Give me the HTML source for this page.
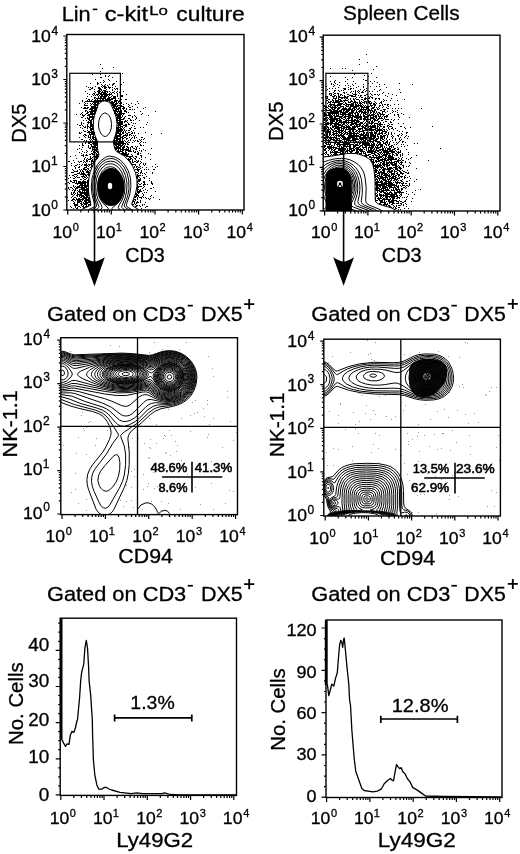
<!DOCTYPE html>
<html><head><meta charset="utf-8"><style>
html,body{margin:0;padding:0;background:#fff;}
svg{display:block;font-family:"Liberation Sans", sans-serif;will-change:transform;}
text{stroke:#000;stroke-width:0.3px;}
</style></head><body>
<svg width="520" height="854" viewBox="0 0 520 854">
<clipPath id="ca"><rect x="66.8" y="34.5" width="177.2" height="175.5"/></clipPath>
<g clip-path="url(#ca)">
<path d="M200 129h2M226 135h2M204 137h2M200 143h2M210 147h2M228 147h2M244 147h2M184 149h2M200 149h2M210 151h2M218 151h2M210 153h2M216 153h2M200 155h4M224 155h2M190 159h2M216 159h2M206 161h2M218 161h2M208 163h2M232 163h2M194 165h2M200 165h2M206 165h2M246 165h2M180 167h2M194 167h4M226 167h4M194 169h2M202 169h2M210 169h2M218 169h2M224 169h4M242 169h2M204 171h2M208 171h2M214 171h2M224 171h2M172 173h2M190 173h2M202 173h2M206 173h6M216 173h2M230 173h2M176 175h2M180 175h2M184 175h2M196 175h4M204 175h2M208 175h6M216 175h6M224 175h2M182 177h4M196 177h6M208 177h4M218 177h2M228 177h2M232 177h4M178 179h4M188 179h2M198 179h6M212 179h2M224 179h2M230 179h2M234 179h2M240 179h2M196 181h4M202 181h2M206 181h6M224 181h2M170 183h2M188 183h2M194 183h8M204 183h2M208 183h8M218 183h2M228 183h2M234 183h2M246 183h2M190 185h2M196 185h4M202 185h10M214 185h2M220 185h2M224 185h4M232 185h2M238 185h4M174 187h2M186 187h4M196 187h8M206 187h8M218 187h2M222 187h2M228 187h2M234 187h2M178 189h2M184 189h2M188 189h2M192 189h6M200 189h24M234 189h2M252 189h2M186 191h2M190 191h2M194 191h2M198 191h2M202 191h4M208 191h8M218 191h2M224 191h2M234 191h2M242 191h4M174 193h2M182 193h2M196 193h2M200 193h14M216 193h2M222 193h2M226 193h6M234 193h2M240 193h6M188 195h4M196 195h2M200 195h4M206 195h6M216 195h6M226 195h6M240 195h2M172 197h2M188 197h2M192 197h20M214 197h6M222 197h10M236 197h2M176 199h4M184 199h2M190 199h2M194 199h2M200 199h2M204 199h4M210 199h16M230 199h2M242 199h2M250 199h4M164 201h2M174 201h2M178 201h2M182 201h2M188 201h34M228 201h8M238 201h2M164 203h2M170 203h34M218 203h2M222 203h4M228 203h6M236 203h4M274 203h2M168 205h2M186 205h12M220 205h10M232 205h2M236 205h2M242 205h2M158 207h2M170 207h2M174 207h2M180 207h2M184 207h2M188 207h4M194 207h4M222 207h6M230 207h6M238 207h2M242 207h2M252 207h2M262 207h2M276 207h2M168 209h2M182 209h2M186 209h10M224 209h10M246 209h2M256 209h2M270 209h2M168 211h8M180 211h2M188 211h8M224 211h8M234 211h10M258 211h2M182 213h10M194 213h2M226 213h10M242 213h6M256 213h2M264 213h2M162 215h2M168 215h4M174 215h4M182 215h14M224 215h6M232 215h2M236 215h6M246 215h4M258 215h4M274 215h2M290 215h2M166 217h10M180 217h14M228 217h14M244 217h6M252 217h2M286 217h2M178 219h8M188 219h4M226 219h2M230 219h8M240 219h2M246 219h2M252 219h2M258 219h4M264 219h2M268 219h2M170 221h4M182 221h12M226 221h8M236 221h2M240 221h4M248 221h4M170 223h2M174 223h2M178 223h14M228 223h16M248 223h6M280 223h2M310 223h2M164 225h2M174 225h4M180 225h6M188 225h4M230 225h2M234 225h2M238 225h6M252 225h2M256 225h2M268 225h2M162 227h2M172 227h4M180 227h10M228 227h6M236 227h14M284 227h2M152 229h2M160 229h2M164 229h2M170 229h2M176 229h14M232 229h12M246 229h2M282 229h2M164 231h6M174 231h6M184 231h2M230 231h12M244 231h2M256 231h6M268 231h2M296 231h2M166 233h2M178 233h10M234 233h8M244 233h2M250 233h2M264 233h2M270 233h2M162 235h4M174 235h2M178 235h10M232 235h12M248 235h2M264 235h2M272 235h2M170 237h2M174 237h6M184 237h4M232 237h8M246 237h4M256 237h4M272 237h2M176 239h4M182 239h4M232 239h4M238 239h10M260 239h2M270 239h2M166 241h2M172 241h2M178 241h6M186 241h2M234 241h8M250 241h2M254 241h2M260 241h4M266 241h2M278 241h2M176 243h2M180 243h4M234 243h2M238 243h8M248 243h6M162 245h2M174 245h10M186 245h2M234 245h12M248 245h2M254 245h2M262 245h2M294 245h2M134 247h2M162 247h2M166 247h2M176 247h2M180 247h4M186 247h2M234 247h12M256 247h2M266 247h2M270 247h2M154 249h2M162 249h2M174 249h2M180 249h6M236 249h10M250 249h4M256 249h4M292 249h2M158 251h4M164 251h2M174 251h2M180 251h8M234 251h8M246 251h8M264 251h2M166 253h2M170 253h2M174 253h4M180 253h6M236 253h2M240 253h6M250 253h4M268 253h2M160 255h2M168 255h4M174 255h2M178 255h4M184 255h2M232 255h10M244 255h2M248 255h2M262 255h2M280 255h2M286 255h2M164 257h2M174 257h2M180 257h6M232 257h6M240 257h4M246 257h2M258 257h4M268 257h4M180 259h8M232 259h14M248 259h2M260 259h2M166 261h2M174 261h2M180 261h4M234 261h12M248 261h2M252 261h2M256 261h4M266 261h2M168 263h4M176 263h4M182 263h6M232 263h12M246 263h2M250 263h2M262 263h2M158 265h2M162 265h2M174 265h16M232 265h6M240 265h2M244 265h4M250 265h2M256 265h4M264 265h2M268 265h2M290 265h2M158 267h4M178 267h2M182 267h8M232 267h10M244 267h4M252 267h4M262 267h4M268 267h2M276 267h2M322 267h2M168 269h4M178 269h12M230 269h4M238 269h2M242 269h2M250 269h2M254 269h2M258 269h4M302 269h2M166 271h2M170 271h4M176 271h2M180 271h2M186 271h2M230 271h12M246 271h10M258 271h2M262 271h2M266 271h2M270 271h2M168 273h2M176 273h2M180 273h2M184 273h4M230 273h10M244 273h4M252 273h2M268 273h2M158 275h2M170 275h2M176 275h6M184 275h8M228 275h8M240 275h6M248 275h4M258 275h2M264 275h2M268 275h2M272 275h2M282 275h4M180 277h2M184 277h4M190 277h2M228 277h14M244 277h4M252 277h4M262 277h2M268 277h2M288 277h2M162 279h4M178 279h2M182 279h2M186 279h8M228 279h2M232 279h8M244 279h2M252 279h2M260 279h2M278 279h2M282 279h2M286 279h2M168 281h2M172 281h2M180 281h2M184 281h2M190 281h4M226 281h10M238 281h4M244 281h2M248 281h2M256 281h2M260 281h2M266 281h2M270 281h2M274 281h2M280 281h2M166 283h2M172 283h2M176 283h2M180 283h2M184 283h12M228 283h2M232 283h16M250 283h2M254 283h2M268 283h2M274 283h4M282 283h2M170 285h2M176 285h8M186 285h2M190 285h6M226 285h8M236 285h12M252 285h2M256 285h4M264 285h2M280 285h2M286 285h2M290 285h2M164 287h2M170 287h2M176 287h4M184 287h12M226 287h26M254 287h2M278 287h2M164 289h2M180 289h4M186 289h10M228 289h14M244 289h4M250 289h2M254 289h4M280 289h2M158 291h2M164 291h4M176 291h2M182 291h2M188 291h6M230 291h4M236 291h10M248 291h2M280 291h4M286 291h2M176 293h2M182 293h10M194 293h2M228 293h2M232 293h6M240 293h4M246 293h4M252 293h4M262 293h4M270 293h2M274 293h2M164 295h2M176 295h2M180 295h2M184 295h10M228 295h14M244 295h6M254 295h4M260 295h2M264 295h2M272 295h2M158 297h2M178 297h4M184 297h2M188 297h2M192 297h2M230 297h12M244 297h4M252 297h2M256 297h2M260 297h2M266 297h4M272 297h2M278 297h2M302 297h2M154 299h2M162 299h2M184 299h12M230 299h4M236 299h2M240 299h18M260 299h2M270 299h4M286 299h2M172 301h2M184 301h2M190 301h4M234 301h4M240 301h2M244 301h4M250 301h12M266 301h2M278 301h2M282 301h2M290 301h2M164 303h2M174 303h2M182 303h2M186 303h4M192 303h4M234 303h12M250 303h2M256 303h8M266 303h2M270 303h2M274 303h2M282 303h2M158 305h2M168 305h2M172 305h2M186 305h2M190 305h2M194 305h2M238 305h2M244 305h4M250 305h4M268 305h4M276 305h2M162 307h2M182 307h4M192 307h2M196 307h2M242 307h12M256 307h2M274 307h4M280 307h2M296 307h2M166 309h2M172 309h2M178 309h4M184 309h4M192 309h6M244 309h14M262 309h2M274 309h4M300 309h2M150 311h2M162 311h6M170 311h6M188 311h2M192 311h4M248 311h8M264 311h2M280 311h4M140 313h2M166 313h2M180 313h2M186 313h2M190 313h8M252 313h14M270 313h4M282 313h2M170 315h2M180 315h2M184 315h2M188 315h8M258 315h4M266 315h2M272 315h2M282 315h2M290 315h2M152 317h2M168 317h2M174 317h2M180 317h4M188 317h2M192 317h4M256 317h2M260 317h4M268 317h4M278 317h2M168 319h2M172 319h2M176 319h6M184 319h2M188 319h4M254 319h8M264 319h2M270 319h2M282 319h2M300 319h2M146 321h2M166 321h2M172 321h4M182 321h4M256 321h4M264 321h2M272 321h2M276 321h2M136 323h4M156 323h2M160 323h4M168 323h2M172 323h4M178 323h2M182 323h6M260 323h2M264 323h2M268 323h4M274 323h4M280 323h2M148 325h2M158 325h2M166 325h2M170 325h2M182 325h2M186 325h2M260 325h2M264 325h4M272 325h4M282 325h2M142 327h2M172 327h2M182 327h4M262 327h2M280 327h2M286 327h2M290 327h2M154 329h2M158 329h2M164 329h2M168 329h6M176 329h8M264 329h8M278 329h2M286 329h2M290 329h2M310 329h2M142 331h2M150 331h4M162 331h2M168 331h8M178 331h2M182 331h4M270 331h2M278 331h2M288 331h2M148 333h2M158 333h2M172 333h2M176 333h2M182 333h4M268 333h2M272 333h4M280 333h2M304 333h2M314 333h2M150 335h2M156 335h4M168 335h6M180 335h2M268 335h2M272 335h2M276 335h4M284 335h2M292 335h2M310 335h2M150 337h2M166 337h4M174 337h4M182 337h2M274 337h2M280 337h2M144 339h2M158 339h2M162 339h2M166 339h8M176 339h2M270 339h10M288 339h2M292 339h2M296 339h2M306 339h4M146 341h2M154 341h2M160 341h2M164 341h2M170 341h2M174 341h2M178 341h2M274 341h4M282 341h2M148 343h8M160 343h2M164 343h4M172 343h6M276 343h2M282 343h2M142 345h6M158 345h2M162 345h2M166 345h2M172 345h8M272 345h4M280 345h4M292 345h2M304 345h2M154 347h6M162 347h8M176 347h2M276 347h2M280 347h2M284 347h2M288 347h2M304 347h2M148 349h6M160 349h12M174 349h6M274 349h2M290 349h2M138 351h2M144 351h4M154 351h2M166 351h2M170 351h4M176 351h2M274 351h8M284 351h2M148 353h2M152 353h2M162 353h8M172 353h2M272 353h6M292 353h2M140 355h2M150 355h2M154 355h6M164 355h2M168 355h4M174 355h2M274 355h2M278 355h2M286 355h4M136 357h2M146 357h4M166 357h2M172 357h2M274 357h2M280 357h2M288 357h2M298 357h2M160 359h4M168 359h4M176 359h2M276 359h6M140 361h2M146 361h8M166 361h2M174 361h4M276 361h6M298 361h2M140 363h4M148 363h2M152 363h2M156 363h6M164 363h8M174 363h4M274 363h6M286 363h4M302 363h2M136 365h2M144 365h6M152 365h2M156 365h22M274 365h2M286 365h4M302 365h2M138 367h2M150 367h22M174 367h4M276 367h2M282 367h2M288 367h2M302 367h4M154 369h2M160 369h6M168 369h4M174 369h4M274 369h2M278 369h4M286 369h6M294 369h2M304 369h2M146 371h2M158 371h18M274 371h2M286 371h2M146 373h2M150 373h2M154 373h6M162 373h4M168 373h10M274 373h10M288 373h2M136 375h2M140 375h4M148 375h2M152 375h22M274 375h4M286 375h2M306 375h2M136 377h2M144 377h2M150 377h6M162 377h8M172 377h4M274 377h2M284 377h2M300 377h4M138 379h2M146 379h2M150 379h2M158 379h20M274 379h4M280 379h2M290 379h2M144 381h2M148 381h4M154 381h2M158 381h2M164 381h12M274 381h2M278 381h4M286 381h2M294 381h2M148 383h2M156 383h6M164 383h2M168 383h2M172 383h6M274 383h10M310 383h2M142 385h2M146 385h4M154 385h2M158 385h20M274 385h6M288 385h2M292 385h2M142 387h2M146 387h2M150 387h2M154 387h2M160 387h18M270 387h4M276 387h2M284 387h2M142 389h4M148 389h2M154 389h10M168 389h10M270 389h6M286 389h2M146 391h2M152 391h4M158 391h10M170 391h8M272 391h6M286 391h2M302 391h2M144 393h2M154 393h2M158 393h2M162 393h8M172 393h4M270 393h4M276 393h2M284 393h2M300 393h2M134 395h2M142 395h2M148 395h4M160 395h4M166 395h14M268 395h4M274 395h2M278 395h6M286 395h2M290 395h2M306 395h2M146 397h2M152 397h2M156 397h4M164 397h10M176 397h4M274 397h2M282 397h2M292 397h2M296 397h2M300 397h2M144 399h6M152 399h16M170 399h10M268 399h4M274 399h2M298 399h2M318 399h2M136 401h2M142 401h4M150 401h2M154 401h8M164 401h2M168 401h12M266 401h2M270 401h2M280 401h2M146 403h2M154 403h10M168 403h6M176 403h6M266 403h4M274 403h2M280 403h2M148 405h2M154 405h6M162 405h2M166 405h2M170 405h12M264 405h2M268 405h2M272 405h6M280 405h2M290 405h2M146 407h4M154 407h2M160 407h4M166 407h10M180 407h2M268 407h2M272 407h2M148 409h8M162 409h4M168 409h6M176 409h6M264 409h4M270 409h2M284 409h2M288 409h2M148 411h8M162 411h2M166 411h2M172 411h2M176 411h2M180 411h2M264 411h2M272 411h4M278 411h2M284 411h2M140 413h2M150 413h2M156 413h4M164 413h4M170 413h6M270 413h4M280 413h2M292 413h4M142 415h2M150 415h2M154 415h2M160 415h2M166 415h4M290 415h2M146 417h2M152 417h4M166 417h2M282 417h2" stroke="#000" stroke-width="2.0" transform="scale(0.5)"/>
<ellipse cx="111" cy="187" rx="13.5" ry="19" fill="#000"/>
<ellipse cx="110" cy="186" rx="2.2" ry="3.2" fill="#fff"/>
<path d="M78.9 215.5 78.7 213.0 80.0 211.0 83.3 208.7 89.3 205.9 90.4 205.0 90.8 204.2 89.0 195.0 88.4 190.0 88.4 183.5 89.0 177.5 90.1 172.5 92.0 167.0 94.6 162.0 98.3 157.0 98.9 155.0 97.6 149.0 97.4 141.5 94.6 134.5 93.6 130.0 93.2 125.0 93.6 120.0 94.5 115.5 98.3 104.5 100.8 102.0 102.8 101.2 104.8 100.9 108.3 101.8 110.9 104.0 115.0 113.5 116.2 117.5 117.0 123.5 116.7 129.5 115.6 134.5 113.3 141.5 113.7 144.5 115.3 149.9 116.8 151.7 123.8 155.7 128.3 160.0 132.6 166.0 135.6 173.0 137.0 180.0 136.9 187.0 135.5 193.5 132.2 202.5 131.9 204.5 132.9 206.0 138.3 209.4 140.2 211.0 141.5 213.5 141.2 215.5 M106.3 136.2 105.3 136.5 103.8 136.2 101.3 134.2 99.4 130.5 98.5 126.0 98.8 121.1 100.1 117.0 102.3 114.1 104.8 112.9 107.3 113.8 109.3 115.8 110.8 119.2 111.5 123.5 111.3 127.9 110.3 131.5 108.5 134.5 106.3 136.2 M85.2 215.5 84.8 213.5 86.0 211.5 88.3 209.8 93.3 207.3 94.3 206.5 94.7 205.5 94.6 204.0 92.1 195.0 91.3 187.0 92.1 178.0 94.5 170.0 97.5 164.5 100.8 160.7 105.8 157.1 107.8 156.3 109.8 156.1 115.3 157.2 120.3 160.0 124.6 164.5 128.1 170.5 129.5 174.5 130.5 178.5 130.9 186.5 129.7 195.0 126.7 203.5 126.4 205.5 127.3 207.0 132.8 210.3 134.6 212.0 135.3 214.0 134.9 215.5 M88.0 215.5 87.6 213.5 88.4 212.0 90.3 210.5 95.3 207.8 96.5 206.0 96.4 204.5 93.6 196.0 92.6 188.5 93.0 180.0 95.2 172.0 98.0 166.5 101.8 162.1 106.3 159.3 110.8 158.5 113.3 158.8 115.8 159.6 120.1 162.5 124.0 167.0 127.0 173.0 128.7 180.0 129.0 188.5 127.7 196.0 124.5 204.5 124.3 206.0 125.3 207.6 130.0 210.5 131.7 212.0 132.5 214.0 132.0 215.5 M91.9 215.5 91.3 214.0 91.9 212.5 93.6 211.0 97.8 208.5 98.7 207.5 98.9 206.5 95.5 197.5 94.2 190.0 94.4 181.5 96.0 174.5 98.6 169.0 101.8 164.9 105.8 162.1 110.3 161.1 114.8 161.9 117.3 163.3 119.3 164.9 122.9 169.5 125.5 175.5 127.0 183.0 126.7 191.0 125.1 198.0 121.7 206.5 121.9 207.5 122.8 208.5 126.7 211.0 128.3 212.5 128.8 214.0 128.2 215.5 M96.7 215.5 96.0 214.5 96.2 213.0 97.7 211.5 101.3 209.0 102.1 207.5 101.7 206.0 97.9 199.0 96.2 193.0 95.7 185.5 96.6 178.5 98.6 173.0 101.9 168.0 105.8 164.9 107.8 164.1 110.3 163.8 112.8 164.1 114.8 164.8 118.5 167.5 121.7 172.0 124.1 178.0 125.1 185.5 124.5 193.0 122.6 199.0 118.7 206.0 118.3 207.5 119.1 209.0 122.6 211.5 124.0 213.0 124.1 214.5 123.4 215.5 M104.3 215.5 102.7 214.5 102.6 213.0 104.3 211.5 107.6 209.5 108.5 208.5 102.8 203.2 99.6 198.0 98.4 194.5 97.7 190.5 97.7 183.0 99.1 177.0 102.0 171.5 103.8 169.5 105.8 168.0 107.8 167.1 110.3 166.7 112.8 167.1 114.8 168.0 116.8 169.5 118.6 171.5 121.5 177.0 122.9 183.0 122.8 190.5 121.0 197.5 117.8 202.9 111.8 208.5 112.6 209.5 116.0 211.5 117.6 213.0 117.4 214.5 115.8 215.5" fill="none" stroke="#000" stroke-width="1.0" stroke-linejoin="round"/>
</g>
<clipPath id="cb"><rect x="323.2" y="35.2" width="176.8" height="175.8"/></clipPath>
<g clip-path="url(#cb)">
<path d="M732 109h2M718 119h2M734 125h2M718 129h2M752 133h2M660 137h2M684 137h2M690 137h2M746 139h2M704 141h2M742 147h2M708 149h2M728 151h2M660 153h2M736 153h2M690 155h2M704 155h2M752 155h2M694 159h2M726 159h2M670 161h2M730 161h4M660 163h2M668 163h2M690 163h2M706 163h2M740 163h2M748 163h2M668 165h2M678 165h2M754 165h2M662 167h2M670 167h2M694 167h2M710 167h2M736 167h2M744 167h2M798 167h2M662 169h2M666 169h2M674 169h2M704 169h2M726 169h2M758 169h2M768 169h2M824 169h2M668 171h2M678 171h2M690 171h2M696 171h2M706 171h2M652 173h2M666 173h2M700 173h2M716 173h2M726 173h2M740 173h2M752 173h2M758 173h2M676 175h2M696 175h2M712 175h2M726 175h2M772 175h2M658 177h2M664 177h2M670 177h2M686 177h6M700 177h4M706 177h2M732 177h2M654 179h2M688 179h4M696 179h2M700 179h2M720 179h2M728 179h2M748 179h2M760 179h2M798 179h2M652 181h2M668 181h4M676 181h2M682 181h2M686 181h2M710 181h2M716 181h2M726 181h2M732 181h2M758 181h2M658 183h2M668 183h2M678 183h2M702 183h2M706 183h2M710 183h2M714 183h2M718 183h2M724 183h2M730 183h2M738 183h2M744 183h2M754 183h2M666 185h2M686 185h4M692 185h2M700 185h2M710 185h2M716 185h2M722 185h6M766 185h2M800 185h2M658 187h6M668 187h4M674 187h4M688 187h2M704 187h2M710 187h2M718 187h2M740 187h2M764 187h2M776 187h2M658 189h2M662 189h2M666 189h2M676 189h2M680 189h4M694 189h4M706 189h8M732 189h4M742 189h2M748 189h4M754 189h2M758 189h2M784 189h2M660 191h4M668 191h4M676 191h2M680 191h2M684 191h2M688 191h2M698 191h8M710 191h2M716 191h2M720 191h4M728 191h4M744 191h2M756 191h2M770 191h2M792 191h2M650 193h6M664 193h6M672 193h2M676 193h4M688 193h4M694 193h4M702 193h10M720 193h2M736 193h2M740 193h2M774 193h2M650 195h2M654 195h2M666 195h2M672 195h2M676 195h20M712 195h2M718 195h2M722 195h4M730 195h2M738 195h2M742 195h4M652 197h4M666 197h8M676 197h2M682 197h4M688 197h2M692 197h4M700 197h2M706 197h2M710 197h2M728 197h6M736 197h4M744 197h2M750 197h4M756 197h4M782 197h2M656 199h4M664 199h2M670 199h2M676 199h6M690 199h2M696 199h2M700 199h2M706 199h4M712 199h6M722 199h4M728 199h4M734 199h2M750 199h2M758 199h2M766 199h2M808 199h2M652 201h4M664 201h4M670 201h8M680 201h4M686 201h10M702 201h2M708 201h2M718 201h2M726 201h2M736 201h2M768 201h2M772 201h2M780 201h2M794 201h2M656 203h2M660 203h4M666 203h2M670 203h16M688 203h2M696 203h2M700 203h6M708 203h4M718 203h2M722 203h2M728 203h6M736 203h6M748 203h2M762 203h2M766 203h2M650 205h2M656 205h6M664 205h16M686 205h2M690 205h2M696 205h6M706 205h10M718 205h4M724 205h6M732 205h2M736 205h4M742 205h2M750 205h2M760 205h4M654 207h2M660 207h2M668 207h2M676 207h10M690 207h4M702 207h6M710 207h2M714 207h2M718 207h6M728 207h2M732 207h2M738 207h6M746 207h4M752 207h2M758 207h2M762 207h2M658 209h12M674 209h10M686 209h4M692 209h16M710 209h4M716 209h2M720 209h2M724 209h2M740 209h2M746 209h6M764 209h2M768 209h4M774 209h4M788 209h2M796 209h2M648 211h2M656 211h2M660 211h4M666 211h16M690 211h4M696 211h2M700 211h8M710 211h14M726 211h2M730 211h2M740 211h6M748 211h4M758 211h4M764 211h2M774 211h2M780 211h2M648 213h6M656 213h6M664 213h2M668 213h4M674 213h2M680 213h8M692 213h6M700 213h18M720 213h6M728 213h2M732 213h8M742 213h2M748 213h2M758 213h2M766 213h2M776 213h2M650 215h6M660 215h14M676 215h6M686 215h2M690 215h2M698 215h4M706 215h8M718 215h2M722 215h16M744 215h6M752 215h2M756 215h2M764 215h2M772 215h2M648 217h2M656 217h2M662 217h4M668 217h4M674 217h6M684 217h10M696 217h6M704 217h6M712 217h2M716 217h4M722 217h2M726 217h2M732 217h6M742 217h6M754 217h2M758 217h2M774 217h4M784 217h2M790 217h2M796 217h2M802 217h2M842 217h2M650 219h4M658 219h4M664 219h6M674 219h4M682 219h24M708 219h4M714 219h4M720 219h14M736 219h4M742 219h2M748 219h4M754 219h4M766 219h6M648 221h2M652 221h12M666 221h10M678 221h6M686 221h4M692 221h8M702 221h8M712 221h2M718 221h6M726 221h2M730 221h2M734 221h12M748 221h4M760 221h4M768 221h2M784 221h2M794 221h2M660 223h24M686 223h2M690 223h8M702 223h6M712 223h2M716 223h10M728 223h4M734 223h4M740 223h2M744 223h6M752 223h2M764 223h6M774 223h2M786 223h2M790 223h2M648 225h2M654 225h24M680 225h16M698 225h10M710 225h6M718 225h2M722 225h12M736 225h2M740 225h4M746 225h4M752 225h2M756 225h4M764 225h2M770 225h2M784 225h2M794 225h2M648 227h4M656 227h22M680 227h2M684 227h8M696 227h10M708 227h4M714 227h4M722 227h2M726 227h6M734 227h2M740 227h2M746 227h2M750 227h2M754 227h2M758 227h4M764 227h2M780 227h2M802 227h2M648 229h6M656 229h6M664 229h2M668 229h2M672 229h2M676 229h2M680 229h22M704 229h2M710 229h2M714 229h4M720 229h2M726 229h2M730 229h4M738 229h2M742 229h8M754 229h4M760 229h10M776 229h2M788 229h2M794 229h4M806 229h2M648 231h16M666 231h4M672 231h6M684 231h4M690 231h2M696 231h12M710 231h8M720 231h2M726 231h4M734 231h14M750 231h4M756 231h2M760 231h2M766 231h2M772 231h4M788 231h2M796 231h2M648 233h2M658 233h8M668 233h18M688 233h14M704 233h20M726 233h12M740 233h2M746 233h8M756 233h6M764 233h2M768 233h8M796 233h2M652 235h4M658 235h8M668 235h4M678 235h6M686 235h6M696 235h10M708 235h16M728 235h8M740 235h8M750 235h4M758 235h2M762 235h2M768 235h2M772 235h2M798 235h2M818 235h2M648 237h6M656 237h2M660 237h20M682 237h4M690 237h2M694 237h6M702 237h4M712 237h6M720 237h4M726 237h6M734 237h2M740 237h10M752 237h2M756 237h10M768 237h2M648 239h4M654 239h2M658 239h18M678 239h4M686 239h4M692 239h2M696 239h2M702 239h4M708 239h4M714 239h2M718 239h6M726 239h16M746 239h6M754 239h4M766 239h2M770 239h8M782 239h2M788 239h2M796 239h2M648 241h2M652 241h4M660 241h10M672 241h12M690 241h28M728 241h2M732 241h2M740 241h2M744 241h2M748 241h8M762 241h4M786 241h2M652 243h2M660 243h10M672 243h4M678 243h6M686 243h8M696 243h2M702 243h8M712 243h8M726 243h2M732 243h4M738 243h2M742 243h4M748 243h2M756 243h4M770 243h4M780 243h2M648 245h2M654 245h4M660 245h6M670 245h4M676 245h30M708 245h10M720 245h6M730 245h2M736 245h4M742 245h6M756 245h2M760 245h2M766 245h2M780 245h4M650 247h28M682 247h2M686 247h4M692 247h2M696 247h2M702 247h12M718 247h8M728 247h2M732 247h2M738 247h8M748 247h8M758 247h4M776 247h2M796 247h2M806 247h2M648 249h10M660 249h4M668 249h14M684 249h6M694 249h2M700 249h8M710 249h12M726 249h2M732 249h4M742 249h2M748 249h2M754 249h12M768 249h2M778 249h2M782 249h4M652 251h2M660 251h2M664 251h2M668 251h6M676 251h10M690 251h4M696 251h2M700 251h4M708 251h2M712 251h4M718 251h4M724 251h2M728 251h8M740 251h2M744 251h8M754 251h2M758 251h4M774 251h4M648 253h8M664 253h14M682 253h8M692 253h8M704 253h16M722 253h6M730 253h4M736 253h16M754 253h4M760 253h4M766 253h4M774 253h2M778 253h6M800 253h4M864 253h2M648 255h4M654 255h4M660 255h2M664 255h4M670 255h14M686 255h16M704 255h8M714 255h2M724 255h8M736 255h2M740 255h12M754 255h2M758 255h2M766 255h4M776 255h2M784 255h2M808 255h2M820 255h2M648 257h6M656 257h2M660 257h4M668 257h12M682 257h8M692 257h2M696 257h14M716 257h10M728 257h6M738 257h6M750 257h6M758 257h2M764 257h2M776 257h2M782 257h4M790 257h2M810 257h2M648 259h4M654 259h6M662 259h4M668 259h2M674 259h6M682 259h2M686 259h2M690 259h22M716 259h6M724 259h2M730 259h22M754 259h10M766 259h4M772 259h2M778 259h2M786 259h2M648 261h4M654 261h4M660 261h2M664 261h4M670 261h4M676 261h12M690 261h2M698 261h4M704 261h4M712 261h4M718 261h2M724 261h12M738 261h10M750 261h16M768 261h2M774 261h2M794 261h2M648 263h2M652 263h10M666 263h14M682 263h4M688 263h4M696 263h6M704 263h4M710 263h4M716 263h12M742 263h2M748 263h2M752 263h4M758 263h2M764 263h10M798 263h2M804 263h2M650 265h12M664 265h4M672 265h2M676 265h8M686 265h2M690 265h6M698 265h6M706 265h4M714 265h2M718 265h2M726 265h4M732 265h4M738 265h8M748 265h6M758 265h2M762 265h4M770 265h4M776 265h2M782 265h2M812 265h4M652 267h4M658 267h4M666 267h10M678 267h2M682 267h4M688 267h4M694 267h24M722 267h2M726 267h4M732 267h2M736 267h2M740 267h6M748 267h6M756 267h10M768 267h4M776 267h2M782 267h2M788 267h2M802 267h2M812 267h2M648 269h2M652 269h4M658 269h4M664 269h6M672 269h2M676 269h2M680 269h4M686 269h4M692 269h4M698 269h6M706 269h4M712 269h2M718 269h10M730 269h4M736 269h2M740 269h8M750 269h2M754 269h6M764 269h2M772 269h2M776 269h2M782 269h2M798 269h2M804 269h2M648 271h2M652 271h4M658 271h2M662 271h2M666 271h2M670 271h18M696 271h22M720 271h18M740 271h12M754 271h2M760 271h4M766 271h6M774 271h2M784 271h2M794 271h4M802 271h2M812 271h2M652 273h6M660 273h2M668 273h2M672 273h2M676 273h4M682 273h8M696 273h26M726 273h6M734 273h4M740 273h12M754 273h4M760 273h10M774 273h2M782 273h2M786 273h2M796 273h2M810 273h2M816 273h2M648 275h26M680 275h2M684 275h8M694 275h16M712 275h2M718 275h16M736 275h8M746 275h6M756 275h2M760 275h6M768 275h2M774 275h2M784 275h2M800 275h2M808 275h2M648 277h4M654 277h2M658 277h6M666 277h2M670 277h10M682 277h2M686 277h16M704 277h12M718 277h16M738 277h12M752 277h6M760 277h6M768 277h2M772 277h2M784 277h2M790 277h2M798 277h2M814 277h2M650 279h4M656 279h2M660 279h10M672 279h4M678 279h2M684 279h16M704 279h14M720 279h8M730 279h4M738 279h10M750 279h6M760 279h2M764 279h4M772 279h2M778 279h2M790 279h2M798 279h2M802 279h2M648 281h2M652 281h10M666 281h18M688 281h2M692 281h20M718 281h2M722 281h2M726 281h6M734 281h8M746 281h8M760 281h4M768 281h2M774 281h2M784 281h2M790 281h2M800 281h2M650 283h2M656 283h4M670 283h4M678 283h4M684 283h2M688 283h6M696 283h2M700 283h2M706 283h2M710 283h4M716 283h2M720 283h2M724 283h8M734 283h2M738 283h10M750 283h10M764 283h4M772 283h4M780 283h2M798 283h2M804 283h4M648 285h2M652 285h14M668 285h14M684 285h16M706 285h8M716 285h2M722 285h16M740 285h2M744 285h4M754 285h8M766 285h2M770 285h6M778 285h2M786 285h2M792 285h2M796 285h2M804 285h2M810 285h2M650 287h4M656 287h2M660 287h2M668 287h4M674 287h6M688 287h12M708 287h2M714 287h2M718 287h4M724 287h16M742 287h2M746 287h4M754 287h2M758 287h4M766 287h6M774 287h2M778 287h2M794 287h2M828 287h2M834 287h2M652 289h10M668 289h2M672 289h36M710 289h6M718 289h2M724 289h16M742 289h8M752 289h2M756 289h10M770 289h4M776 289h4M788 289h2M792 289h2M802 289h2M806 289h2M648 291h4M658 291h2M662 291h4M668 291h2M674 291h2M678 291h4M688 291h4M694 291h2M698 291h4M706 291h12M720 291h6M728 291h22M752 291h6M760 291h6M772 291h2M776 291h2M782 291h4M814 291h2M648 293h4M654 293h10M666 293h2M674 293h6M682 293h2M686 293h16M706 293h6M718 293h4M724 293h2M730 293h4M738 293h2M742 293h6M750 293h2M754 293h2M760 293h6M768 293h2M778 293h6M786 293h2M802 293h2M808 293h2M648 295h2M654 295h20M678 295h2M682 295h4M692 295h2M698 295h4M706 295h4M712 295h8M724 295h10M736 295h12M750 295h12M764 295h2M768 295h2M772 295h2M778 295h2M782 295h2M786 295h2M794 295h2M650 297h4M656 297h8M666 297h2M670 297h22M694 297h2M698 297h10M710 297h8M720 297h2M726 297h2M732 297h2M736 297h2M740 297h6M748 297h2M752 297h6M764 297h4M770 297h2M774 297h8M788 297h4M796 297h2M880 297h2M648 299h4M658 299h2M662 299h4M668 299h4M676 299h10M688 299h4M694 299h2M698 299h6M706 299h4M712 299h14M728 299h2M732 299h2M736 299h2M740 299h4M746 299h4M752 299h2M758 299h10M770 299h2M774 299h8M784 299h6M794 299h4M812 299h2M648 301h4M656 301h2M662 301h2M666 301h4M676 301h14M692 301h8M702 301h8M712 301h4M718 301h8M732 301h2M736 301h12M750 301h12M764 301h12M778 301h8M790 301h2M800 301h2M652 303h2M660 303h2M664 303h2M668 303h8M680 303h8M690 303h6M698 303h8M712 303h6M720 303h10M734 303h18M754 303h4M762 303h2M766 303h24M792 303h2M796 303h2M800 303h2M650 305h4M660 305h22M684 305h4M690 305h2M694 305h2M700 305h4M710 305h8M722 305h2M726 305h2M730 305h2M734 305h12M748 305h6M758 305h6M766 305h12M782 305h8M794 305h8M816 305h2M648 307h2M652 307h2M660 307h2M668 307h6M680 307h10M698 307h2M704 307h4M710 307h6M718 307h6M726 307h6M742 307h8M754 307h4M760 307h2M764 307h2M768 307h2M772 307h10M784 307h2M790 307h4M796 307h2M804 307h2M650 309h2M654 309h4M662 309h2M666 309h10M678 309h6M722 309h2M730 309h4M736 309h6M748 309h4M756 309h4M762 309h2M766 309h10M778 309h2M784 309h4M792 309h4M800 309h2M804 309h2M816 309h2M656 311h2M660 311h2M664 311h2M724 311h2M728 311h10M744 311h4M750 311h6M758 311h2M764 311h10M776 311h6M784 311h2M788 311h2M792 311h4M800 311h2M804 311h2M832 311h2M650 313h2M654 313h2M658 313h2M730 313h4M738 313h4M746 313h2M752 313h2M756 313h10M770 313h4M776 313h10M800 313h2M738 315h26M766 315h2M770 315h2M774 315h14M796 315h2M804 315h2M822 315h2M742 317h2M748 317h2M752 317h8M764 317h2M768 317h6M776 317h12M790 317h4M798 317h2M802 317h2M812 317h2M820 317h2M740 319h8M754 319h4M760 319h12M774 319h20M796 319h2M802 319h2M816 319h2M742 321h2M746 321h2M750 321h4M756 321h10M768 321h10M780 321h4M794 321h8M804 321h4M856 321h2M742 323h6M750 323h10M764 323h6M772 323h2M778 323h2M782 323h2M788 323h10M802 323h2M810 323h2M744 325h6M752 325h2M760 325h4M766 325h4M772 325h18M792 325h2M796 325h2M800 325h6M810 325h2M818 325h2M746 327h2M756 327h2M760 327h2M764 327h6M772 327h6M780 327h6M788 327h6M798 327h2M802 327h2M820 327h2M746 329h2M750 329h2M754 329h2M758 329h4M764 329h12M778 329h2M782 329h12M800 329h4M746 331h18M766 331h4M772 331h8M784 331h10M796 331h2M804 331h4M818 331h2M746 333h16M764 333h2M768 333h2M772 333h4M790 333h6M798 333h2M806 333h2M812 333h2M816 333h2M750 335h8M760 335h8M774 335h2M778 335h6M786 335h8M796 335h6M806 335h2M748 337h4M754 337h2M762 337h2M766 337h6M774 337h12M790 337h6M798 337h6M832 337h2M750 339h4M758 339h4M764 339h18M786 339h2M790 339h6M800 339h2M748 341h8M758 341h2M764 341h6M776 341h4M782 341h4M788 341h2M794 341h6M804 341h2M814 341h2M750 343h4M756 343h2M760 343h4M766 343h4M774 343h12M788 343h6M798 343h4M806 343h4M750 345h4M756 345h14M774 345h2M778 345h6M788 345h2M794 345h2M800 345h4M810 345h4M816 345h2M748 347h2M754 347h6M762 347h12M776 347h2M782 347h8M792 347h4M800 347h8M814 347h4M750 349h4M758 349h2M762 349h4M768 349h8M778 349h2M782 349h8M794 349h6M804 349h2M750 351h2M754 351h6M762 351h2M766 351h14M782 351h2M786 351h2M790 351h4M796 351h4M810 351h2M750 353h6M758 353h8M770 353h4M776 353h6M784 353h8M796 353h2M800 353h6M808 353h2M818 353h2M750 355h2M754 355h4M760 355h16M778 355h2M782 355h6M790 355h4M798 355h2M802 355h2M808 355h4M814 355h2M752 357h2M756 357h12M770 357h2M774 357h2M778 357h14M794 357h6M808 357h2M820 357h2M750 359h6M758 359h2M764 359h8M774 359h6M782 359h2M788 359h8M804 359h2M832 359h2M750 361h2M754 361h2M758 361h2M762 361h2M766 361h8M776 361h2M780 361h4M786 361h4M792 361h2M796 361h2M800 361h4M818 361h2M752 363h6M760 363h6M770 363h12M790 363h2M794 363h2M802 363h4M812 363h4M828 363h2M750 365h16M768 365h6M776 365h8M786 365h2M790 365h12M806 365h2M750 367h6M762 367h24M792 367h4M798 367h2M802 367h6M810 367h4M818 367h2M750 369h24M776 369h14M792 369h2M804 369h2M818 369h2M752 371h18M772 371h22M796 371h2M800 371h2M804 371h6M812 371h4M818 371h2M752 373h4M758 373h4M764 373h10M776 373h8M788 373h2M792 373h6M802 373h2M810 373h2M816 373h2M752 375h6M760 375h2M764 375h12M778 375h14M794 375h4M806 375h4M812 375h2M750 377h10M762 377h10M774 377h2M778 377h2M786 377h2M790 377h4M796 377h2M802 377h4M810 377h2M750 379h6M758 379h6M766 379h2M770 379h8M782 379h2M786 379h2M790 379h10M802 379h4M840 379h2M752 381h8M762 381h18M782 381h8M792 381h4M798 381h2M802 381h2M830 381h2M754 383h2M758 383h10M772 383h2M780 383h2M788 383h2M794 383h8M812 383h2M754 385h2M760 385h4M766 385h6M774 385h2M778 385h6M788 385h20M824 385h2M750 387h4M758 387h2M768 387h12M782 387h4M788 387h6M798 387h2M802 387h2M812 387h2M750 389h2M754 389h2M758 389h6M766 389h2M770 389h24M800 389h4M816 389h2M828 389h2M752 391h4M758 391h18M780 391h10M792 391h4M798 391h2M802 391h2M752 393h4M760 393h4M766 393h2M770 393h26M800 393h2M814 393h2M750 395h2M756 395h2M760 395h2M764 395h2M770 395h6M778 395h2M782 395h8M794 395h6M804 395h2M808 395h2M812 395h2M750 397h2M754 397h10M766 397h4M772 397h4M780 397h2M784 397h6M792 397h4M798 397h2M824 397h2M750 399h2M756 399h4M764 399h18M784 399h4M812 399h2M752 401h4M758 401h8M768 401h2M776 401h4M782 401h12M798 401h2M810 401h2M750 403h2M760 403h6M768 403h2M772 403h2M776 403h12M792 403h6M800 403h4M808 403h4M822 403h2M760 405h12M778 405h10M796 405h2M804 405h4M758 407h4M768 407h4M774 407h2M778 407h2M784 407h6M792 407h6M800 407h4M810 407h2M762 409h2M766 409h10M782 409h4M802 409h2M806 409h2M812 409h2M768 411h2M772 411h2M776 411h4M786 411h2M792 411h2M796 411h6M806 411h2M778 413h4M788 413h2M792 413h2M812 413h2M782 415h2M786 415h2M790 415h2M796 415h4M790 417h4M808 417h2M816 417h2M796 419h2M800 419h2" stroke="#000" stroke-width="2.0" transform="scale(0.5)"/>
<path d="M325.5 212 L325.5 178 Q326 168 338 167.5 Q350 168 351.5 180 L352 212Z" fill="#000"/>
<ellipse cx="340" cy="184" rx="3" ry="3.2" fill="#fff"/>
<ellipse cx="340" cy="184" rx="1.3" ry="1.4" fill="#000"/>
<path d="M319.2 157.4 330.2 156.3 346.7 153.6 352.2 153.3 356.7 153.7 361.2 154.9 365.2 156.5 368.2 158.3 370.2 160.2 371.9 162.7 373.1 165.7 374.0 169.7 375.0 179.7 375.2 198.9 375.8 201.7 377.1 203.2 378.9 204.2 391.7 208.0 396.7 210.6 398.0 212.2 398.0 213.7 397.0 215.2 394.8 216.7 M319.2 164.5 323.1 162.2 328.7 160.3 335.2 158.8 341.2 158.3 345.7 158.7 350.2 159.9 354.7 162.1 358.4 164.7 360.7 167.2 362.7 170.2 364.1 173.7 365.1 177.7 366.2 187.7 365.7 200.2 366.0 202.2 367.0 203.7 369.3 205.2 380.4 209.7 383.4 211.7 383.9 213.2 383.5 214.2 381.7 215.6 379.4 216.7 M319.2 170.7 322.0 167.2 326.0 164.2 330.7 162.0 336.2 160.6 340.7 160.3 345.2 160.9 349.2 162.5 353.3 165.2 355.8 167.7 358.3 171.2 360.2 175.2 361.5 179.7 362.4 189.2 362.2 194.2 361.3 200.7 361.5 202.7 362.7 204.2 364.3 205.2 374.7 209.4 378.3 211.7 378.9 213.2 378.4 214.2 376.7 215.5 374.0 216.7 M319.2 177.9 321.5 172.7 324.4 168.7 327.9 165.7 332.2 163.4 337.2 162.0 341.7 162.0 346.2 163.1 350.2 165.4 353.2 168.2 355.8 171.7 357.5 175.2 359.0 180.2 359.8 185.2 359.9 189.7 359.4 194.7 357.9 201.7 358.3 203.7 360.9 205.7 372.2 210.1 374.8 212.2 374.8 213.7 373.9 214.7 369.7 216.7 M319.2 204.5 319.2 201.9 M319.2 209.2 322.1 206.7 323.2 204.7 323.0 202.7 320.8 195.2 320.2 188.7 321.0 181.2 323.4 174.7 326.7 169.7 331.2 165.9 334.2 164.5 336.7 163.8 339.7 163.5 342.2 163.8 346.2 165.0 350.1 167.7 353.2 171.2 355.6 175.7 357.4 182.2 357.8 188.7 357.3 193.7 354.7 202.2 354.7 204.2 355.4 205.2 357.0 206.2 368.2 210.3 370.1 211.7 370.7 212.7 370.4 213.7 369.4 214.7 364.2 216.7 M322.5 216.7 319.2 215.3 M329.0 216.7 323.7 214.9 322.2 213.7 321.6 212.7 321.7 211.7 322.4 210.7 326.5 207.2 327.4 205.2 327.1 203.7 324.3 197.7 323.1 193.2 322.6 187.7 323.1 182.2 324.0 178.7 325.4 175.2 327.2 172.2 329.2 169.9 331.7 167.8 334.2 166.4 337.2 165.4 339.7 165.2 344.2 166.0 348.7 168.6 352.2 172.7 354.8 178.2 356.1 184.2 356.0 190.7 354.9 195.7 351.5 203.2 351.3 205.2 351.9 206.2 353.6 207.2 363.3 210.7 364.8 211.7 365.4 212.7 365.1 213.7 363.7 214.7 356.6 216.7 M346.2 216.2 339.7 216.3 334.0 215.7 329.2 214.2 327.6 212.7 327.9 211.2 331.7 207.7 332.1 206.2 327.5 199.2 325.4 194.2 324.5 188.2 325.0 181.7 326.9 176.2 329.7 171.8 333.2 168.8 337.7 167.0 340.7 166.9 343.2 167.4 345.7 168.5 348.2 170.3 350.4 172.7 352.0 175.2 353.5 178.7 354.3 182.2 354.7 188.2 353.6 194.2 352.0 198.2 347.6 204.7 347.2 206.2 347.6 207.2 348.7 208.0 356.9 211.2 358.3 212.7 357.7 213.7 355.6 214.7 351.2 215.7 346.2 216.2 M341.2 205.3 338.7 205.4 336.2 204.6 333.7 203.1 331.1 200.7 328.9 197.7 327.5 194.7 326.1 188.2 326.2 184.2 326.9 180.7 327.9 177.7 329.5 174.7 331.5 172.2 333.7 170.4 336.7 169.0 339.2 168.5 341.7 168.7 344.2 169.5 346.7 171.0 349.0 173.2 350.7 175.7 352.0 178.7 353.3 185.2 352.8 191.7 350.4 197.7 348.7 200.2 346.2 202.6 343.7 204.3 341.2 205.3 M344.2 213.2 339.7 213.2 338.1 212.7 337.6 211.7 339.7 210.6 342.7 210.7 344.4 211.2 345.9 212.2 345.6 212.7 344.2 213.2 M340.2 202.7 337.7 202.5 335.7 201.8 333.3 200.2 331.4 198.2 329.8 195.7 328.5 192.7 327.6 186.7 328.4 180.7 329.6 177.7 331.0 175.2 333.2 172.8 335.2 171.4 337.2 170.6 339.7 170.2 342.2 170.5 344.2 171.3 346.2 172.6 348.3 174.7 350.9 179.7 351.8 183.2 352.0 186.2 351.8 189.2 351.0 192.7 348.5 197.7 346.7 199.8 344.7 201.3 342.2 202.4 340.2 202.7 M342.2 200.3 340.2 200.6 337.7 200.4 335.7 199.5 333.7 198.1 332.1 196.2 330.6 193.7 329.2 188.2 329.6 182.2 331.6 177.2 333.2 175.1 335.2 173.4 337.2 172.4 339.2 172.0 341.2 172.1 343.2 172.7 346.7 175.2 349.2 179.2 350.5 184.2 350.4 189.2 348.8 194.2 345.8 198.2 342.2 200.3 M341.7 198.3 338.2 198.3 334.7 196.4 332.0 192.7 330.8 188.2 331.0 183.2 332.6 178.7 334.1 176.7 335.7 175.3 339.2 174.0 342.7 174.5 345.7 176.7 347.9 180.2 349.1 184.7 348.8 189.2 347.5 193.2 345.2 196.3 341.7 198.3 M341.7 195.9 338.7 196.0 335.7 194.4 333.7 191.7 332.5 187.7 332.7 183.7 333.9 180.2 336.2 177.5 339.2 176.2 342.2 176.6 344.5 178.2 346.4 181.2 347.4 184.7 347.3 188.2 346.2 191.7 344.2 194.4 341.7 195.9 M340.7 193.2 338.7 193.1 336.6 191.7 335.2 189.5 334.6 186.7 334.9 183.7 336.1 181.2 337.7 179.6 339.7 179.0 341.7 179.4 343.4 180.7 344.7 182.7 345.3 185.2 345.1 188.2 344.2 190.5 342.7 192.3 340.7 193.2 M340.7 187.7 339.2 187.7 338.6 186.7 338.7 185.2 339.7 184.2 340.7 184.5 341.2 185.2 341.3 186.7 340.7 187.7" fill="none" stroke="#000" stroke-width="1.0" stroke-linejoin="round"/>
</g>
<clipPath id="cc"><rect x="60.8" y="337.7" width="176.7" height="176.90000000000003"/></clipPath>
<g clip-path="url(#cc)">
<path d="M308 685h2M372 685h2M220 691h2M238 693h2M324 699h2M358 699h2M140 703h2M298 705h2M206 707h2M416 713h2M424 737h2M426 753h2M454 783h2M378 795h2M454 795h2M390 801h2M414 801h2M384 805h2M414 809h2M406 817h2M336 819h2M164 825h2M394 825h2M388 827h2M162 831h2M380 831h2M408 833h2M298 837h2M362 837h2M426 837h2M180 843h2M460 843h2M176 845h2M312 849h2M418 849h2M344 853h2M380 853h2M172 855h2M166 857h2M168 861h2M214 861h2M338 861h2M380 863h2M260 865h2M472 865h2M274 869h2M416 869h2M328 871h2M342 871h2M330 873h2M156 875h2M414 875h2M192 877h2M264 877h2M276 877h2M326 877h2M274 879h2M300 879h2M466 881h2M350 883h2M274 887h2M288 887h2M312 887h2M126 891h2M190 891h2M354 891h2M258 895h2M298 895h2M444 895h2M300 897h2M352 903h2M332 905h2M152 907h2M330 907h2M172 909h2M340 911h2M296 915h2M298 917h2M362 921h2M422 923h2M330 937h2M268 939h2M338 939h2M370 941h2M262 943h2M306 945h2M150 947h2M286 949h2M374 949h2M268 953h2M382 965h2M296 967h2M422 967h2M252 971h2M294 973h2M314 973h2M262 975h2M390 975h2M308 977h2M150 979h2M286 979h2M332 981h2M458 981h2M466 983h2M142 985h2M172 999h2M240 1001h2M262 1001h2M252 1003h2M302 1003h2M322 1003h2M156 1007h2M336 1007h2M450 1007h2M400 1009h2M246 1013h2M266 1015h2M284 1019h2M360 1019h2M426 1019h2M172 1021h2M322 1021h2" stroke="#999" stroke-width="2.0" transform="scale(0.5)"/>
<path d="M137.8 509 Q140 504 146 502.8 Q152 502.5 155.5 508 L158.5 513.8 M158.5 513.8 Q161 510.5 164.8 510.3 Q168 510.5 169.5 513.5" fill="none" stroke="#000" stroke-width="1"/>
<path d="M56.8 353.0 59.3 351.8 62.3 351.3 65.3 351.8 71.3 354.2 74.8 354.8 121.8 353.1 132.3 353.6 148.8 355.4 152.8 354.8 160.3 352.1 164.8 351.0 169.3 350.7 173.8 351.0 177.8 352.0 182.3 353.9 186.3 356.5 190.2 360.2 193.1 364.2 195.1 368.2 196.5 372.7 196.9 377.2 196.2 383.7 194.1 390.2 190.9 395.7 186.8 399.9 182.3 403.0 177.8 404.9 172.8 406.4 161.0 408.7 154.8 411.3 150.2 414.7 141.7 422.7 132.3 430.2 129.6 433.2 128.4 435.7 127.9 438.7 129.3 453.2 129.2 464.7 128.4 473.2 126.8 480.6 124.2 487.7 113.8 509.6 112.3 511.8 110.3 513.7 108.3 514.9 106.3 515.5 103.3 515.4 100.8 514.4 98.3 512.4 96.1 509.2 88.4 489.2 87.2 484.2 86.9 479.7 87.7 474.2 90.0 468.7 92.8 464.5 102.7 452.2 106.0 446.7 109.3 439.7 110.7 435.7 111.1 432.7 110.6 429.2 109.4 425.7 107.3 421.7 104.8 418.2 102.1 415.7 98.8 413.7 92.8 411.6 78.3 408.2 70.8 406.1 62.3 402.9 56.8 400.1 M56.8 354.0 59.8 352.6 62.3 352.2 64.8 352.6 71.3 355.2 74.8 355.8 122.3 353.8 133.8 354.3 148.8 356.1 152.3 355.6 159.8 352.9 164.8 351.6 169.3 351.2 173.8 351.6 178.8 353.0 182.8 354.9 186.3 357.3 189.8 360.7 192.6 364.7 194.5 368.7 195.7 372.7 196.1 377.2 195.2 384.2 193.0 390.2 189.5 395.7 185.3 399.7 180.8 402.4 175.8 404.4 170.8 405.5 159.8 406.9 156.8 407.7 153.8 409.1 148.8 412.7 138.3 422.6 124.7 431.7 121.2 434.7 120.7 435.7 120.8 436.7 124.3 446.2 125.6 454.2 125.6 464.7 124.3 475.0 122.4 481.7 119.3 488.3 109.8 504.9 107.8 507.2 105.8 508.2 103.8 508.0 102.3 507.1 100.6 505.2 98.8 501.8 94.0 491.2 92.4 486.7 91.5 481.7 91.7 477.2 92.8 473.2 94.8 469.2 106.3 454.2 112.8 443.3 118.1 436.2 118.4 435.2 118.0 433.7 108.5 418.7 105.8 415.7 102.3 413.0 95.7 410.2 74.3 404.5 61.3 399.5 56.8 397.1 M56.8 355.0 60.3 353.4 63.3 353.2 65.8 353.8 71.8 356.4 76.3 356.9 113.8 354.6 124.8 354.4 134.3 354.9 149.3 356.8 152.8 356.2 160.3 353.4 164.3 352.3 168.8 351.9 173.3 352.1 177.3 353.1 181.8 355.0 185.3 357.3 188.9 360.7 191.5 364.2 193.6 368.2 194.9 372.7 195.3 377.2 194.5 383.7 192.0 390.2 188.6 395.2 183.8 399.5 179.3 402.0 173.3 403.9 168.3 404.6 157.8 405.0 153.3 406.2 147.8 409.8 139.3 418.2 135.3 421.5 129.3 424.8 124.3 426.3 120.8 426.0 117.8 424.5 115.3 422.2 108.3 414.2 105.3 411.8 102.3 410.1 96.8 408.0 80.3 403.4 69.3 399.0 60.8 396.6 56.8 394.6 M105.8 491.2 103.8 490.7 102.3 489.7 100.8 488.2 99.3 485.7 97.9 480.7 98.5 475.7 100.6 471.2 104.8 465.7 113.3 456.3 115.3 454.9 116.8 454.7 117.8 455.3 118.8 457.0 119.9 462.2 119.7 469.7 118.3 476.7 116.0 482.2 112.8 486.9 109.3 490.0 107.3 491.0 105.8 491.2 M56.8 356.1 60.3 354.4 63.3 354.2 65.8 354.9 71.8 357.5 76.3 358.0 112.8 355.3 124.8 355.0 134.3 355.6 149.3 357.5 152.8 357.0 160.3 354.0 164.3 353.0 168.8 352.5 173.3 352.8 177.8 353.9 181.3 355.4 185.3 358.1 188.5 361.2 191.1 364.7 193.0 368.7 194.2 372.7 194.6 377.2 193.7 383.7 191.4 389.7 187.8 394.8 182.8 399.0 177.8 401.5 171.8 403.1 165.8 403.5 155.3 402.7 151.3 403.4 148.7 404.7 145.5 407.2 137.3 415.6 134.3 418.1 130.3 420.4 126.3 421.5 122.8 421.4 119.3 420.0 109.8 411.1 106.8 409.1 103.0 407.2 84.8 401.4 72.1 396.2 61.8 394.7 56.8 392.5 M56.8 357.2 60.3 355.5 63.3 355.3 65.8 355.9 71.8 358.7 76.3 359.2 113.3 356.0 124.3 355.6 133.8 356.1 149.8 358.3 153.0 357.7 159.8 354.9 164.3 353.6 168.8 353.1 172.8 353.3 177.3 354.4 180.8 355.9 184.8 358.5 187.8 361.4 190.6 365.2 192.5 369.2 193.5 373.2 193.8 377.2 193.0 383.7 190.5 389.7 186.3 395.1 181.3 398.9 175.3 401.4 168.3 402.4 161.8 401.9 151.3 399.5 147.8 399.7 145.8 400.7 143.3 402.8 132.8 413.3 129.8 415.2 126.8 416.0 123.8 415.8 121.3 414.8 111.3 407.2 102.8 403.2 74.8 393.5 70.8 392.8 62.3 392.9 59.3 392.0 56.8 390.7 M56.8 358.5 59.8 356.8 63.3 356.4 65.8 357.1 71.8 360.0 76.3 360.6 91.8 359.2 111.8 356.8 124.3 356.2 134.8 356.8 149.8 359.0 153.3 358.4 160.3 355.4 163.8 354.4 168.3 353.8 172.8 354.0 176.8 354.9 180.8 356.6 184.3 359.0 187.3 361.8 189.8 365.2 191.5 368.7 192.7 372.7 193.1 377.2 192.8 380.7 192.0 384.2 190.7 387.7 188.9 390.7 186.8 393.4 184.3 395.8 181.3 397.9 178.3 399.5 175.3 400.5 171.3 401.3 167.8 401.4 163.8 401.1 157.3 399.4 147.8 394.9 144.8 394.6 142.4 395.2 139.4 396.7 130.3 404.7 127.8 406.0 125.8 406.4 121.8 405.7 111.8 401.2 104.7 398.7 79.3 391.7 72.3 390.4 62.3 391.1 59.8 390.5 56.8 389.0 M56.8 359.9 59.8 358.0 63.3 357.6 65.8 358.3 71.8 361.5 76.3 362.0 91.3 360.5 112.3 357.5 123.8 356.8 134.8 357.4 147.3 359.6 150.3 359.8 153.3 359.2 159.8 356.3 163.8 355.1 168.3 354.4 172.3 354.6 176.3 355.4 180.3 357.1 183.8 359.4 186.7 362.2 189.0 365.2 191.0 369.2 192.1 373.2 192.4 377.2 192.0 381.2 190.7 385.7 188.7 389.7 186.0 393.2 182.8 396.0 178.8 398.3 174.3 399.9 170.3 400.5 165.3 400.3 159.8 399.0 155.3 397.0 148.8 392.7 146.3 391.9 142.3 392.1 126.8 395.4 117.8 395.6 104.8 394.0 74.6 388.2 71.3 388.1 64.8 389.5 61.8 389.4 59.3 388.7 56.8 387.2 M56.8 361.4 59.8 359.3 63.3 358.9 65.8 359.7 71.8 363.1 73.8 363.6 76.3 363.7 90.3 361.9 110.8 358.4 123.8 357.4 134.3 358.0 150.3 360.6 153.3 360.0 160.3 356.9 163.8 355.8 168.3 355.1 172.3 355.3 176.8 356.3 180.3 357.9 183.3 359.9 186.2 362.7 188.4 365.7 190.2 369.2 191.2 372.7 191.7 377.2 191.2 381.7 189.9 385.7 188.1 389.2 185.3 392.7 182.3 395.4 178.8 397.4 174.8 398.9 170.3 399.6 165.3 399.4 159.8 397.9 155.3 395.6 149.3 391.1 146.6 390.2 143.8 390.3 129.8 392.6 117.8 392.9 105.3 391.5 74.8 385.9 71.3 386.0 65.3 387.6 62.3 387.9 59.3 387.0 56.8 385.4 M56.8 363.2 59.8 360.8 61.3 360.3 63.3 360.3 65.8 361.2 72.3 365.2 76.3 365.7 88.8 363.7 108.8 359.4 115.8 358.5 122.8 358.1 133.8 358.6 147.8 361.2 150.8 361.4 153.8 360.7 159.8 357.9 163.8 356.5 167.8 355.8 171.8 355.9 176.3 356.9 179.8 358.4 182.8 360.4 185.7 363.2 187.9 366.2 189.6 369.7 190.6 373.2 190.9 377.2 190.5 381.2 189.1 385.7 187.2 389.2 184.7 392.2 181.3 395.1 177.8 397.0 173.8 398.3 169.8 398.8 164.8 398.4 159.8 396.9 155.8 394.6 149.8 389.9 147.3 388.9 144.3 388.9 129.8 391.3 118.3 391.4 106.3 389.9 75.8 383.5 71.8 383.5 65.8 385.7 62.8 386.2 59.8 385.5 56.8 383.4 M56.8 365.3 59.8 362.5 61.3 362.0 63.3 361.9 66.3 363.2 72.3 367.8 73.8 368.3 75.8 368.4 86.8 365.9 104.8 361.1 114.3 359.4 122.8 358.7 131.3 359.0 137.8 359.8 147.8 362.1 150.8 362.3 153.8 361.6 163.3 357.4 167.3 356.6 171.3 356.6 175.3 357.3 178.3 358.5 181.8 360.6 184.7 363.2 187.0 366.2 188.8 369.7 189.9 373.7 190.1 377.2 189.7 381.2 188.5 385.2 186.6 388.7 184.1 391.7 181.3 394.1 177.8 396.1 173.8 397.4 169.8 398.0 164.8 397.5 159.8 395.9 155.8 393.4 150.3 388.8 147.8 387.7 144.8 387.8 130.8 390.1 124.3 390.4 117.8 390.2 111.3 389.4 103.8 388.0 75.3 380.4 71.8 380.7 66.3 383.6 63.3 384.4 59.8 383.6 56.8 381.1 M172.8 396.8 166.8 397.0 161.3 395.5 156.8 393.0 150.7 387.7 147.8 386.5 144.9 386.7 133.8 388.9 125.8 389.5 116.3 389.0 106.8 387.4 96.8 384.4 83.7 379.2 79.3 376.7 77.8 375.2 77.6 374.2 78.5 372.7 80.6 371.2 89.7 367.2 101.3 363.0 111.8 360.5 121.3 359.4 130.3 359.5 137.8 360.5 147.8 362.9 150.8 363.3 153.8 362.6 160.3 359.3 164.8 357.8 169.8 357.3 174.3 357.9 177.3 358.9 180.3 360.5 183.2 362.7 185.4 365.2 187.0 367.7 188.5 371.2 189.2 374.2 189.4 377.7 189.0 380.7 188.0 384.2 186.6 387.2 184.4 390.2 182.3 392.3 179.3 394.4 176.3 395.8 172.8 396.8 M56.8 368.4 58.3 365.9 60.3 364.3 62.3 363.7 64.3 364.1 66.6 365.7 68.9 368.2 71.7 372.2 72.3 374.2 71.5 376.2 68.8 379.2 66.3 381.2 63.8 382.2 61.8 382.3 59.8 381.5 58.3 380.2 56.8 377.9 M170.3 396.2 165.3 395.8 160.8 394.3 156.8 391.8 150.8 386.4 148.3 385.4 145.3 385.6 134.3 387.9 126.3 388.6 116.3 388.1 106.8 386.3 98.8 383.6 92.0 380.2 87.6 376.7 86.7 375.2 86.7 373.7 87.4 372.2 89.4 370.2 95.8 366.4 104.3 363.1 112.8 361.1 122.3 360.1 131.3 360.3 138.8 361.4 147.8 363.8 150.8 364.3 153.8 363.6 160.8 359.9 164.8 358.6 169.8 358.0 174.3 358.7 177.8 359.9 180.3 361.4 183.1 363.7 185.2 366.2 186.9 369.2 188.1 372.7 188.5 375.7 188.4 379.2 187.7 382.7 186.5 385.7 184.6 388.7 182.3 391.2 179.8 393.1 176.8 394.7 173.3 395.8 170.3 396.2 M63.3 379.8 61.3 379.6 59.4 378.2 58.2 376.2 57.7 373.7 57.8 371.2 58.8 368.6 60.3 366.9 62.3 366.1 64.3 366.7 66.1 368.2 67.6 370.7 68.1 373.2 67.9 375.2 66.8 377.4 65.3 378.9 63.3 379.8 M171.8 395.2 166.3 395.1 161.3 393.6 157.3 391.0 151.3 385.3 148.8 384.2 146.3 384.3 134.8 387.0 126.8 387.7 117.3 387.3 107.8 385.5 100.8 382.9 95.1 379.7 92.9 377.7 91.9 376.2 91.4 374.7 91.5 373.2 92.6 371.2 94.0 369.7 99.3 366.2 106.3 363.5 114.3 361.6 122.8 360.8 131.8 361.0 138.3 362.1 148.3 365.0 151.3 365.4 153.8 364.7 160.8 360.9 164.8 359.4 169.8 358.8 174.3 359.5 179.8 362.0 182.4 364.2 184.5 366.7 186.0 369.2 187.1 372.2 187.6 375.2 187.7 378.2 187.2 381.2 186.3 384.2 184.6 387.2 182.8 389.5 180.3 391.8 177.8 393.3 174.8 394.6 171.8 395.2 M63.3 375.5 61.8 375.5 60.6 373.7 60.8 371.6 61.3 370.7 62.3 370.2 63.6 370.7 64.4 372.2 64.3 374.2 63.3 375.5 M172.3 394.2 166.8 394.3 161.3 392.5 157.3 389.8 151.8 384.1 149.3 382.9 146.3 383.2 135.8 386.0 127.8 386.9 118.3 386.5 109.3 384.8 102.8 382.4 97.6 379.2 96.1 377.7 95.0 375.7 94.7 374.2 95.0 372.7 97.0 369.7 101.8 366.4 108.3 363.8 115.8 362.1 124.3 361.4 132.8 361.9 139.3 363.1 148.8 366.3 151.3 366.6 153.8 366.0 160.3 362.1 164.8 360.3 169.8 359.7 174.3 360.4 177.3 361.6 179.8 363.1 183.8 367.2 186.2 372.2 186.8 375.2 186.8 378.2 185.5 383.7 182.4 388.7 177.8 392.3 172.3 394.2 M172.3 393.3 166.8 393.3 163.8 392.6 161.3 391.5 157.3 388.5 152.3 382.8 149.8 381.4 147.3 381.7 136.8 384.9 129.8 385.9 120.3 385.9 111.3 384.3 104.8 382.0 100.3 379.2 97.9 376.2 97.5 374.7 97.7 372.7 99.6 369.7 104.0 366.7 109.8 364.4 116.3 362.9 125.3 362.2 133.8 362.8 140.3 364.2 148.8 367.6 151.3 368.1 153.8 367.3 160.3 363.1 164.3 361.4 169.3 360.6 173.8 361.2 178.8 363.5 182.7 367.2 185.2 372.2 185.9 377.7 184.7 383.2 181.8 388.0 179.8 389.9 177.3 391.5 172.3 393.3 M172.8 392.2 167.3 392.4 164.8 391.9 161.8 390.6 158.3 388.0 152.3 380.8 150.3 379.6 147.8 379.9 138.3 383.6 130.8 385.0 121.3 385.1 112.3 383.6 106.3 381.3 102.3 378.7 100.2 375.7 99.9 374.2 100.1 372.7 102.1 369.7 105.8 367.1 111.3 364.9 117.8 363.5 126.8 363.0 135.3 363.9 141.3 365.6 149.3 369.4 151.3 369.9 153.8 369.0 159.8 364.5 163.8 362.5 168.8 361.5 173.3 362.0 178.2 364.2 181.9 367.7 184.2 372.2 185.0 377.2 184.1 382.2 181.6 386.7 177.8 390.1 172.8 392.2 M172.3 391.3 169.3 391.6 166.3 391.2 163.3 390.2 160.8 388.8 157.5 385.7 152.3 377.8 150.8 376.5 149.3 376.9 142.8 380.8 137.3 382.9 129.8 384.2 121.8 384.2 113.8 382.9 106.9 380.2 104.8 378.7 103.0 376.7 102.2 374.7 102.4 372.7 103.5 370.7 105.1 369.2 110.3 366.4 117.8 364.4 125.8 363.8 133.3 364.4 139.8 366.1 144.4 368.2 149.8 372.4 151.3 373.0 152.8 372.1 158.8 366.5 162.8 364.0 167.8 362.6 170.8 362.5 173.3 363.0 177.8 365.1 181.3 368.5 183.4 372.7 184.0 377.7 182.9 382.7 180.3 386.7 176.8 389.6 172.3 391.3 M172.3 390.7 169.3 391.0 166.3 390.7 163.3 389.6 160.8 388.1 158.3 385.7 156.4 383.2 154.5 379.7 153.2 376.2 153.2 374.7 154.0 372.7 157.8 368.2 161.8 365.1 166.3 363.4 169.3 363.0 171.8 363.2 174.3 363.9 176.9 365.2 179.3 367.1 181.1 369.2 182.4 371.7 183.2 374.2 183.5 376.7 183.2 379.7 182.5 382.2 181.2 384.7 179.3 387.0 177.3 388.6 174.8 390.0 172.3 390.7 M129.3 383.7 124.3 383.9 118.8 383.4 113.8 382.3 109.8 380.9 106.3 378.8 104.3 376.7 103.5 374.7 103.8 372.2 106.4 369.2 111.8 366.4 118.3 364.8 125.8 364.3 132.8 364.8 139.3 366.5 144.3 369.0 147.6 372.2 148.3 374.2 147.9 375.7 146.2 377.7 143.8 379.5 137.3 382.3 129.3 383.7 M171.8 390.2 169.3 390.4 166.3 390.1 163.8 389.2 161.3 387.7 159.1 385.7 157.2 383.2 155.6 380.2 154.6 377.2 154.5 375.2 155.0 373.2 157.8 369.2 162.0 365.7 166.8 363.9 171.8 363.8 174.3 364.5 176.8 365.8 179.1 367.7 180.7 369.7 182.0 372.2 182.7 374.7 182.6 379.7 181.8 382.2 180.5 384.7 176.8 388.2 174.3 389.5 171.8 390.2 M129.3 383.2 124.3 383.4 119.3 382.9 114.8 382.0 110.8 380.6 107.5 378.7 105.6 376.7 104.7 374.7 105.1 372.2 106.1 370.7 107.8 369.2 112.3 366.9 118.3 365.3 124.8 364.8 131.3 365.1 137.8 366.6 142.4 368.7 145.8 371.7 146.6 373.7 146.5 375.2 145.7 376.7 143.5 378.7 140.8 380.3 137.3 381.7 129.3 383.2 M170.8 389.7 165.8 389.3 163.3 388.3 161.0 386.7 157.6 382.7 156.2 379.7 155.6 377.2 155.5 375.2 156.0 373.2 158.7 369.2 162.8 366.0 165.3 364.9 167.8 364.3 172.8 364.7 177.3 366.9 179.2 368.7 180.6 370.7 181.7 373.2 182.2 375.7 181.7 380.7 180.7 383.2 179.3 385.2 177.3 387.1 175.3 388.4 170.8 389.7 M128.8 382.7 124.3 382.8 119.3 382.4 114.8 381.4 111.3 380.0 108.4 378.2 106.6 376.2 106.0 374.2 106.4 372.2 108.8 369.6 113.3 367.2 118.8 365.8 125.3 365.3 131.8 365.7 137.3 367.0 141.8 369.2 144.4 371.7 145.1 373.2 145.1 375.2 143.8 377.2 142.1 378.7 136.3 381.4 128.8 382.7 M172.8 388.7 170.3 389.1 167.8 389.1 163.3 387.5 159.5 384.2 157.9 381.7 156.9 379.2 156.5 375.2 158.0 371.2 161.3 367.7 165.8 365.4 168.3 364.9 170.8 364.9 175.3 366.3 178.8 369.2 180.2 371.2 181.2 373.7 181.6 378.2 180.2 382.7 177.3 386.3 175.3 387.7 172.8 388.7 M127.8 382.2 119.3 381.8 115.3 380.8 111.8 379.4 109.3 377.7 108.0 376.2 107.3 374.2 107.8 372.2 110.1 369.7 114.3 367.6 119.3 366.3 125.3 365.8 131.3 366.2 136.3 367.4 140.3 369.2 143.1 371.7 143.9 373.7 143.7 375.2 142.8 376.8 140.8 378.6 135.3 381.0 127.8 382.2 M171.8 388.3 167.3 388.3 164.8 387.5 162.8 386.4 159.6 383.2 157.5 378.7 157.4 374.7 159.3 370.7 162.8 367.5 166.8 365.8 171.3 365.7 173.8 366.4 175.8 367.4 179.1 370.7 180.7 374.7 180.8 379.2 179.1 383.2 175.8 386.6 171.8 388.3 M131.3 381.2 127.3 381.6 122.8 381.6 118.8 381.0 114.8 379.9 111.8 378.4 109.8 376.7 108.8 374.7 109.0 372.7 110.4 370.7 113.8 368.6 118.3 367.2 123.3 366.5 128.8 366.5 133.8 367.4 137.8 368.8 140.8 370.7 142.0 372.2 142.5 373.7 142.3 375.2 141.4 376.7 139.7 378.2 137.3 379.5 131.3 381.2 M170.3 387.7 166.3 387.3 162.3 385.1 159.5 381.7 158.2 377.2 158.6 373.7 160.8 370.1 164.3 367.5 168.3 366.3 172.8 366.8 176.3 368.7 179.1 372.2 180.2 376.2 179.6 380.7 177.5 384.2 174.3 386.6 170.3 387.7 M130.3 380.7 122.3 380.9 118.8 380.3 115.3 379.2 112.5 377.7 111.0 376.2 110.3 374.7 110.5 372.7 112.1 370.7 115.3 368.9 119.3 367.7 123.8 367.1 128.8 367.2 133.3 368.0 136.8 369.2 139.8 371.2 140.8 372.7 141.1 374.2 140.6 375.7 139.8 376.8 136.0 379.2 130.3 380.7 M171.8 386.7 167.8 386.9 164.3 385.6 161.3 382.9 159.4 379.2 159.1 375.7 160.3 372.2 163.0 369.2 166.8 367.3 170.8 367.1 174.8 368.5 177.6 371.2 179.2 374.7 179.3 378.7 178.0 382.2 175.3 385.1 171.8 386.7 M128.3 380.2 121.8 380.1 115.8 378.4 113.7 377.2 112.3 375.7 111.8 374.2 112.1 372.7 113.9 370.7 116.8 369.2 120.5 368.2 124.8 367.7 129.3 367.9 133.1 368.7 136.3 370.0 138.6 371.7 139.4 373.2 139.5 374.7 138.7 376.2 137.7 377.2 133.6 379.2 128.3 380.2 M172.3 385.7 168.8 386.2 165.3 385.2 162.3 382.8 160.5 379.7 160.0 376.2 160.8 373.1 163.1 370.2 166.3 368.3 169.8 367.8 173.4 368.7 176.3 370.9 178.2 374.2 178.6 377.7 177.6 381.2 175.3 384.1 172.3 385.7 M129.8 379.2 123.3 379.4 117.8 378.2 115.8 377.2 114.3 375.9 113.7 374.7 113.7 373.2 114.7 371.7 117.0 370.2 119.9 369.2 123.3 368.6 127.3 368.6 130.8 369.0 133.8 369.9 136.1 371.2 137.7 373.2 137.7 374.7 137.3 375.7 134.3 377.9 129.8 379.2 M170.3 385.2 167.3 385.0 164.3 383.5 161.9 380.7 161.0 377.7 161.2 374.7 162.8 371.8 165.3 369.8 168.3 368.8 171.8 369.1 174.8 370.7 176.8 373.2 177.7 376.2 177.5 379.2 175.9 382.2 173.3 384.3 170.3 385.2 M129.8 378.2 124.8 378.6 119.7 377.7 116.3 375.7 115.7 374.7 115.8 373.2 117.8 371.2 122.3 369.7 127.3 369.5 131.8 370.3 135.0 372.2 135.7 373.2 135.7 374.7 134.0 376.7 129.8 378.2 M169.8 384.2 166.8 383.7 164.4 382.2 162.6 379.7 162.0 377.2 162.4 374.7 163.9 372.2 166.3 370.4 168.8 369.8 171.8 370.1 174.3 371.6 175.9 373.7 176.7 376.7 176.2 379.7 174.8 381.9 172.3 383.7 169.8 384.2 M128.3 377.3 124.3 377.4 120.8 376.6 118.6 375.2 118.2 374.2 118.4 373.2 119.3 372.2 120.8 371.4 124.8 370.6 128.8 370.8 132.2 372.2 133.3 373.7 132.9 375.2 131.3 376.4 128.3 377.3 M171.3 382.8 168.8 383.0 166.8 382.4 164.8 380.9 163.5 378.7 163.3 376.2 163.9 374.2 165.3 372.5 167.3 371.3 169.8 370.9 172.3 371.6 174.2 373.2 175.3 375.2 175.5 377.7 174.9 379.7 173.3 381.7 171.3 382.8 M125.8 375.7 123.2 375.2 122.4 374.7 122.2 373.7 123.5 372.7 125.8 372.3 128.1 372.7 129.4 373.7 129.2 374.7 128.4 375.2 125.8 375.7 M170.8 381.4 168.8 381.5 167.3 381.0 165.8 379.8 165.0 378.2 164.8 376.7 165.3 374.9 166.3 373.6 167.8 372.7 169.8 372.4 171.3 372.8 172.8 373.8 173.8 375.5 174.0 377.2 173.5 379.2 172.3 380.6 170.8 381.4 M169.8 379.2 167.9 378.7 167.1 377.2 167.8 375.4 169.3 374.7 170.9 375.2 171.7 376.7 171.3 378.3 169.8 379.2" fill="none" stroke="#000" stroke-width="1.0" stroke-linejoin="round"/>
</g>
<clipPath id="cd"><rect x="323.8" y="339.2" width="176.59999999999997" height="176.8"/></clipPath>
<g clip-path="url(#cd)">
<path d="M734 681h2M750 685h2M930 685h2M934 687h2M876 703h2M700 705h2M838 705h2M740 707h2M736 709h2M808 709h2M664 713h2M896 713h2M918 715h2M742 719h2M748 721h2M656 725h2M924 769h2M918 773h2M926 775h2M982 775h2M992 775h2M978 783h2M898 785h2M716 787h2M970 789h2M724 791h2M770 791h2M972 791h2M758 793h2M680 807h2M680 809h2M850 809h2M732 811h2M810 811h2M888 819h2M746 821h2M806 821h2M914 821h2M658 823h2M874 823h2M706 825h2M730 827h2M948 827h2M750 829h2M930 829h2M676 831h2M772 833h2M790 833h2M896 835h2M740 839h2M782 839h2M860 839h2M718 843h2M956 845h2M676 847h2M936 847h2M710 849h2M836 849h2M906 855h2M710 857h2M690 859h2M904 861h2M836 865h2M716 867h2M750 867h2M814 867h2M884 867h4M868 869h2M758 871h2M848 871h2M938 871h2M996 871h2M834 873h2M824 879h2M816 883h2M912 885h2M746 889h2M816 889h2M704 893h2M858 893h2M940 893h2M992 895h2M666 897h2M756 897h2M882 897h2M676 899h2M790 899h2M874 899h2M900 901h2M838 903h2M652 905h2M742 905h2M940 909h2M802 911h2M704 921h2M998 921h2M836 923h2M756 925h2M808 927h2M654 931h2M666 931h2M780 931h2M940 939h2M954 945h2M854 947h2M814 949h2M904 951h2M870 953h2M908 957h2M882 959h2M818 961h2M894 965h2M884 969h2M894 979h2M982 981h2M992 985h2M840 989h2M848 989h2M834 991h2M898 991h2M916 993h2M898 999h2M974 1013h2M988 1013h2M824 1025h2M836 1025h2M872 1027h2" stroke="#999" stroke-width="2.0" transform="scale(0.5)"/>
<path d="M409 369 Q412 359 428 359 Q445 358 447 369 Q449 381 437 392 Q428 399 419 397 Q409 393 409 382Z" fill="#111"/>
<ellipse cx="427" cy="376.5" rx="4" ry="3.4" fill="#fff"/>
<ellipse cx="427" cy="376.5" rx="2" ry="1.6" fill="none" stroke="#000" stroke-width="0.8"/>
<path d="M319.8 361.7 322.8 361.3 326.3 362.5 329.2 364.7 334.3 369.9 335.8 370.9 337.3 371.0 348.8 366.5 359.8 363.8 373.8 362.3 393.8 362.7 398.8 362.4 403.8 361.2 413.3 356.4 418.3 354.7 425.3 353.9 434.3 354.2 438.3 355.1 442.3 356.7 445.3 358.7 448.2 361.7 450.4 365.2 452.1 369.2 453.2 373.7 453.6 378.7 453.2 382.7 452.0 386.7 450.2 390.2 447.8 393.3 444.8 395.9 441.8 397.7 438.3 399.0 433.8 399.9 425.8 400.3 419.8 399.8 414.8 398.8 404.8 395.6 398.8 394.6 375.3 394.1 361.8 392.9 349.3 390.4 337.3 386.3 334.8 387.2 329.3 393.1 326.3 395.4 322.8 396.6 319.8 396.2 M332.7 521.7 328.3 519.4 327.0 518.2 326.6 517.2 327.0 515.7 330.0 513.2 330.7 512.2 327.5 505.7 326.5 499.2 323.9 495.2 322.6 491.7 322.3 488.7 322.4 485.7 323.0 483.2 324.1 480.7 325.8 478.7 327.3 477.7 332.8 476.6 338.8 469.8 341.8 467.6 345.3 465.9 349.3 464.7 353.8 463.8 366.8 463.3 378.8 463.7 387.3 465.4 390.8 466.9 393.8 468.7 396.3 470.8 398.7 473.7 401.5 479.2 403.0 485.2 403.5 490.7 403.7 503.2 404.1 506.2 405.5 508.2 410.3 511.4 411.3 512.7 412.1 514.7 412.2 516.7 411.5 518.7 409.8 520.7 407.9 521.7 M319.8 363.0 323.3 362.7 326.8 364.2 330.1 367.2 335.3 373.6 336.3 374.4 337.3 374.7 343.9 370.7 347.8 368.8 353.3 366.9 359.8 365.3 367.3 364.1 374.3 363.7 394.3 364.2 399.3 363.9 404.3 362.7 413.3 358.0 418.8 356.0 424.8 355.3 433.3 355.5 437.3 356.3 440.8 357.6 443.8 359.4 446.7 362.2 449.0 365.7 450.5 369.2 451.6 373.7 452.0 378.2 451.7 382.2 450.7 385.7 449.0 389.2 446.8 392.2 444.3 394.5 441.3 396.4 437.8 397.7 433.8 398.6 425.8 399.0 419.3 398.4 414.8 397.4 404.8 394.1 399.3 393.0 374.8 392.6 360.8 391.2 353.8 389.7 347.8 387.9 343.9 386.2 338.8 383.1 337.3 382.6 335.3 383.8 330.0 390.7 326.8 393.7 323.3 395.2 319.8 394.9 M333.9 521.7 328.8 519.3 327.6 518.2 327.1 517.2 327.3 516.2 328.0 515.2 331.8 512.7 332.4 511.7 328.5 506.2 327.8 503.7 327.6 498.7 324.8 495.2 323.4 492.2 322.9 489.7 322.9 486.7 323.5 483.7 324.4 481.7 325.8 479.9 327.8 478.7 329.3 478.5 332.8 479.3 333.8 479.2 339.9 471.7 342.8 469.5 346.8 467.6 350.8 466.4 355.3 465.6 366.8 465.2 378.3 465.6 382.8 466.3 386.8 467.4 390.3 469.0 393.3 471.0 396.0 473.7 398.0 476.7 400.0 481.2 401.2 486.7 401.7 492.7 401.8 505.7 402.3 508.2 403.7 509.7 407.3 510.8 409.3 512.0 410.6 513.7 411.2 515.7 410.6 518.2 408.3 520.3 405.3 520.9 400.3 520.3 398.2 521.7 M433.8 397.2 425.8 397.7 419.3 397.1 414.3 395.8 404.3 392.1 399.3 391.1 374.3 390.8 366.8 390.1 359.8 388.9 352.3 386.8 346.8 384.2 343.4 381.2 342.7 379.7 342.5 377.7 344.0 374.7 347.7 371.7 353.8 368.8 360.8 366.8 367.8 365.6 374.8 365.2 394.3 366.0 399.3 365.8 404.3 364.5 413.8 359.3 419.3 357.3 426.8 356.6 431.8 356.7 435.8 357.3 439.3 358.4 442.3 360.1 444.8 362.2 446.8 364.7 448.6 368.2 449.7 371.7 450.2 375.2 450.3 379.7 449.9 382.7 448.9 386.2 447.3 389.2 445.3 391.7 443.0 393.7 440.3 395.3 437.3 396.5 433.8 397.2 M319.8 364.6 321.8 364.2 323.8 364.4 326.3 365.5 328.3 367.1 330.5 369.7 332.6 373.2 333.8 376.2 334.2 378.7 333.9 381.2 332.5 384.7 330.4 388.2 328.3 390.7 326.3 392.4 324.3 393.4 321.8 393.8 319.8 393.3 M334.9 521.7 329.8 519.6 328.1 518.2 327.6 517.2 327.8 516.2 328.8 515.0 334.3 511.7 333.9 510.7 330.8 508.1 329.3 506.2 328.4 503.2 328.9 497.7 325.8 495.2 324.1 492.2 323.5 489.7 323.4 487.2 323.9 484.7 324.8 482.4 326.8 480.3 328.8 479.8 330.8 480.4 333.8 482.7 334.8 482.8 338.5 476.7 340.8 473.9 344.3 471.1 348.3 469.2 355.8 467.5 366.8 467.1 378.3 467.6 382.8 468.3 386.3 469.5 389.8 471.2 392.5 473.2 394.8 475.7 396.7 478.7 398.4 483.2 399.4 488.7 399.7 508.7 400.3 512.3 401.3 513.0 404.8 512.1 407.3 512.4 409.3 514.1 409.8 516.2 408.8 518.3 406.3 519.4 403.8 518.9 400.3 516.4 395.3 521.7 M430.8 396.2 423.8 396.3 417.8 395.4 413.3 393.9 404.3 389.9 398.8 388.5 394.3 388.2 375.3 388.5 368.3 387.9 362.3 386.8 356.3 385.0 352.1 382.7 349.6 380.2 349.0 378.7 349.0 377.2 350.3 374.7 353.3 372.1 358.3 369.7 363.8 368.1 369.8 367.2 376.3 366.9 394.8 368.4 399.3 368.3 404.3 366.8 413.8 360.9 418.8 358.9 426.3 357.9 431.3 358.0 435.3 358.6 438.8 359.8 441.8 361.5 444.2 363.7 446.0 366.2 447.5 369.7 448.4 373.2 448.8 377.2 448.6 381.2 448.0 384.2 446.7 387.2 445.1 389.7 442.8 392.0 440.3 393.7 437.3 395.0 430.8 396.2 M319.8 366.7 321.8 366.1 323.8 366.3 325.8 367.2 327.7 368.7 329.7 371.2 331.0 373.7 331.9 376.2 332.2 378.7 331.9 381.2 331.0 384.2 329.6 386.7 327.8 389.1 325.8 390.7 323.8 391.6 321.8 391.8 319.8 391.3 M335.8 521.7 330.8 519.9 329.0 518.7 328.3 517.7 328.3 516.2 329.3 515.0 336.4 511.2 335.8 510.1 332.3 508.2 330.5 506.7 329.4 504.7 329.1 502.2 329.6 500.2 330.8 498.2 334.8 495.8 335.7 494.7 336.7 486.7 337.9 482.7 339.5 479.2 341.3 476.6 343.7 474.2 346.3 472.4 349.3 471.1 356.3 469.4 366.8 469.0 377.8 469.5 385.3 471.3 388.3 472.8 390.9 474.7 393.2 477.2 395.0 480.2 396.8 485.2 397.6 491.2 397.7 505.2 396.8 513.7 397.7 516.7 396.7 518.7 392.6 521.7 M329.8 495.3 327.8 495.2 326.2 494.2 324.9 492.2 324.1 489.2 324.2 486.2 325.0 483.7 326.3 481.9 328.3 481.0 329.8 481.3 331.5 482.7 333.0 485.2 333.6 487.7 333.5 490.2 332.6 492.7 331.3 494.4 329.8 495.3 M406.8 516.7 405.8 516.8 405.3 516.4 405.3 515.2 406.3 514.8 407.0 515.2 407.3 516.2 406.8 516.7 M432.3 394.8 423.3 395.0 416.8 393.7 411.4 391.2 400.8 384.5 396.8 383.1 393.8 383.1 384.3 384.7 378.3 385.2 371.8 385.0 365.8 384.0 361.3 382.5 358.2 380.7 356.6 378.7 356.3 376.2 358.0 373.7 361.0 371.7 365.8 370.0 371.3 369.1 380.8 369.3 386.1 370.2 394.8 372.4 398.8 372.5 403.3 370.6 412.9 363.2 418.3 360.5 421.8 359.6 425.3 359.3 430.8 359.3 434.8 359.9 437.8 360.9 440.3 362.2 442.6 364.2 444.6 366.7 446.7 372.2 447.2 379.7 446.0 385.2 444.7 387.7 442.8 390.1 440.8 391.7 438.3 393.2 432.3 394.8 M319.8 369.6 322.8 368.8 324.8 369.4 326.3 370.4 327.8 372.0 329.1 374.2 330.1 378.7 329.3 383.2 328.3 385.2 326.6 387.2 324.8 388.5 323.3 389.0 321.3 389.0 319.8 388.4 M336.6 521.7 331.3 519.8 329.6 518.7 328.8 517.7 328.8 516.2 329.8 515.1 332.8 513.4 337.4 511.7 338.7 510.7 338.3 509.7 337.3 508.7 333.3 507.7 331.3 506.4 330.1 504.7 329.8 502.2 330.6 500.2 331.8 498.8 333.3 498.0 336.6 497.2 337.7 496.2 339.1 486.2 341.4 480.2 343.2 477.7 345.3 475.7 350.3 472.9 356.8 471.4 366.8 470.9 377.3 471.4 384.3 473.1 387.3 474.7 389.8 476.7 391.8 479.0 393.4 481.7 395.0 486.7 395.7 493.2 395.7 505.2 394.7 513.2 396.4 515.7 396.6 517.2 396.2 518.2 394.8 519.4 390.4 521.7 M329.3 493.7 327.8 493.8 326.3 492.7 325.3 490.9 324.9 488.7 325.0 486.2 325.8 484.2 326.8 482.9 328.3 482.4 329.8 482.8 330.8 483.9 331.7 485.7 332.1 487.7 331.5 491.2 330.7 492.7 329.3 493.7 M428.8 393.7 420.8 393.3 417.3 392.3 414.3 390.9 411.1 388.7 408.5 386.2 406.5 383.2 405.6 380.7 405.3 378.2 405.7 375.2 406.7 372.7 408.6 369.7 411.2 366.7 414.2 364.2 417.3 362.4 420.3 361.3 424.3 360.7 429.3 360.6 433.3 361.0 436.8 362.0 439.8 363.6 442.0 365.7 444.0 368.7 445.0 371.7 445.6 375.7 445.5 380.7 444.5 384.7 442.9 387.7 440.3 390.3 437.3 392.1 433.3 393.3 428.8 393.7 M376.8 380.8 371.3 380.8 366.8 379.7 363.9 377.7 363.5 376.7 363.6 375.2 364.9 373.7 366.8 372.6 369.8 371.7 372.8 371.4 379.3 372.0 381.8 372.9 383.7 374.2 384.5 376.2 383.3 378.2 380.3 379.9 376.8 380.8 M324.3 383.2 322.8 383.4 321.4 382.7 320.3 381.2 319.9 379.7 320.0 377.7 320.5 376.2 321.3 375.2 322.8 374.4 324.3 374.6 325.3 375.3 326.3 376.7 326.7 378.2 326.2 381.2 325.3 382.6 324.3 383.2 M337.4 521.7 331.3 519.5 329.6 518.2 329.1 517.2 329.6 515.7 331.3 514.4 340.0 511.2 340.8 510.2 340.1 507.7 339.3 506.7 334.3 507.0 331.8 505.8 331.0 504.7 330.6 503.2 331.3 500.7 332.3 499.7 333.8 499.0 338.3 499.2 339.4 498.7 340.0 496.7 340.7 488.7 341.7 484.7 343.7 480.7 346.8 477.3 350.3 475.1 354.3 473.8 359.8 473.0 366.8 472.9 376.8 473.3 383.3 475.0 385.8 476.3 388.3 478.2 390.3 480.6 391.7 483.2 393.2 488.2 393.8 494.2 393.7 505.2 392.7 512.7 395.5 515.7 395.9 517.2 395.4 518.2 393.8 519.5 388.7 521.7 M329.3 491.8 328.3 492.1 327.3 491.8 326.4 490.7 325.9 489.2 325.9 487.2 326.3 485.7 327.8 484.1 329.3 484.4 330.6 486.7 330.6 489.7 329.3 491.8 M430.8 392.3 423.3 392.3 417.8 390.9 415.3 389.5 413.0 387.7 411.3 385.7 410.0 383.2 409.3 380.7 409.0 377.7 409.4 374.2 410.3 371.7 411.7 369.2 413.7 366.7 416.2 364.7 418.8 363.3 421.8 362.4 425.3 361.9 430.3 362.0 434.3 362.6 437.3 363.8 439.8 365.5 441.7 367.7 443.0 370.2 444.0 374.2 444.1 378.7 443.6 382.7 442.4 385.7 440.5 388.2 437.8 390.2 434.8 391.5 430.8 392.3 M373.8 377.2 370.6 376.7 370.0 376.2 369.9 375.2 371.3 374.3 373.3 374.0 375.3 374.4 376.4 375.2 376.3 376.2 375.8 376.6 373.8 377.2 M338.2 521.7 331.8 519.5 330.1 518.2 329.6 516.7 330.7 515.2 332.8 514.0 341.4 511.2 342.9 510.2 341.9 503.2 342.3 492.7 343.1 487.2 344.9 482.7 348.3 478.8 352.8 476.4 358.8 475.1 366.8 474.8 375.8 475.1 382.3 476.8 386.8 479.8 388.7 482.2 390.1 484.7 391.3 489.2 391.9 495.2 391.8 505.2 390.7 512.2 394.3 515.2 395.0 516.2 395.2 517.2 394.7 518.2 392.8 519.6 387.4 521.7 M328.3 488.8 327.7 488.2 327.8 487.6 328.3 487.3 328.6 488.2 328.3 488.8 M335.8 505.7 333.3 505.6 331.9 504.2 331.8 501.9 333.3 500.4 335.8 500.2 337.7 501.7 338.0 502.7 337.7 504.2 335.8 505.7 M431.8 390.8 424.8 391.0 419.8 390.0 415.8 387.7 413.0 384.2 412.0 381.7 411.7 379.2 411.7 375.7 412.3 372.7 413.3 370.2 414.7 368.2 416.7 366.2 418.8 364.9 421.3 363.9 424.8 363.3 432.8 363.6 435.3 364.4 437.8 365.7 439.8 367.6 441.2 369.7 442.2 372.7 442.7 376.7 442.5 380.7 441.4 384.2 439.8 386.7 437.8 388.5 435.3 389.9 431.8 390.8 M339.0 521.7 332.3 519.4 330.7 518.2 330.2 516.7 331.3 515.2 333.3 514.0 342.8 511.2 344.9 510.2 344.1 503.2 344.2 493.2 345.1 487.7 346.9 483.7 350.1 480.2 354.3 478.0 359.3 477.0 366.8 476.7 375.3 477.0 380.8 478.4 383.3 479.8 385.3 481.4 388.2 485.7 389.4 490.2 389.9 496.2 389.8 505.2 388.6 511.7 393.6 515.2 394.3 516.2 394.5 517.2 394.0 518.2 392.3 519.5 386.2 521.7 M334.3 504.2 333.4 503.7 333.2 502.7 333.8 501.9 334.8 501.8 335.4 502.2 335.7 503.2 335.3 503.9 334.3 504.2 M428.3 389.7 422.8 389.4 418.6 387.7 415.5 384.7 414.0 380.7 413.9 374.7 415.4 370.2 416.9 368.2 418.7 366.7 420.8 365.6 423.3 364.8 430.3 364.6 435.3 365.9 437.3 367.2 438.8 368.7 440.0 370.7 440.8 373.2 441.2 376.2 441.0 380.2 440.4 382.7 439.1 385.2 437.3 387.1 434.8 388.5 431.8 389.4 428.3 389.7 M339.9 521.7 335.3 520.4 332.8 519.3 331.3 518.2 330.8 516.7 331.9 515.2 334.3 513.9 347.0 510.2 346.1 503.7 346.1 494.2 346.8 489.2 348.5 485.2 351.3 482.0 355.3 479.9 359.8 478.9 366.8 478.6 374.3 478.9 379.8 480.3 383.8 483.0 386.3 486.7 387.6 491.2 388.0 497.2 387.7 505.7 386.4 511.2 387.3 512.2 392.8 515.2 393.6 516.2 393.8 517.2 393.3 518.2 391.3 519.6 385.1 521.7 M430.3 388.3 425.3 388.3 421.3 387.4 418.1 385.2 416.3 382.2 415.5 377.2 416.3 372.2 418.6 368.7 421.8 366.7 426.8 365.8 432.8 366.4 436.3 368.2 437.7 369.7 438.9 371.7 439.6 374.7 439.7 378.2 439.4 380.7 438.6 383.2 437.2 385.2 435.3 386.7 432.8 387.8 430.3 388.3 M340.9 521.7 333.8 519.5 331.9 518.2 331.4 516.7 332.6 515.2 335.8 513.6 349.0 510.2 349.3 509.7 348.1 503.2 348.1 494.7 348.9 489.7 350.4 486.2 352.8 483.6 356.3 481.7 360.8 480.7 366.8 480.5 373.8 480.8 378.8 482.1 382.3 484.6 384.6 488.2 385.8 493.2 386.0 501.2 385.6 506.2 384.3 511.2 391.4 514.7 392.6 515.7 393.1 517.2 392.0 518.7 390.4 519.7 384.0 521.7 M431.3 386.7 426.8 387.1 423.3 386.5 420.3 385.0 418.4 382.7 417.2 378.7 417.6 373.7 418.9 370.7 421.8 368.3 425.8 367.2 431.3 367.4 434.8 368.8 437.3 371.7 438.0 373.7 438.3 376.2 438.2 379.2 437.6 381.7 436.5 383.7 435.3 384.9 433.3 386.1 431.3 386.7 M341.9 521.7 337.3 520.6 334.0 519.2 332.3 517.7 332.3 516.2 334.1 514.7 337.3 513.4 351.2 510.2 351.6 509.7 350.6 506.7 350.1 503.7 350.0 496.2 350.5 491.7 351.7 488.2 353.8 485.6 357.3 483.5 361.3 482.6 366.8 482.4 372.8 482.7 377.3 483.8 380.8 486.1 382.8 489.2 383.9 494.2 384.0 502.2 383.4 506.7 381.9 510.7 383.2 511.7 390.3 514.5 391.8 515.7 392.3 516.7 391.8 518.2 390.3 519.3 387.3 520.6 382.8 521.7 M428.8 385.7 425.3 385.6 422.3 384.5 420.2 382.7 419.1 380.2 418.8 376.2 419.5 372.7 421.4 370.2 424.3 368.8 428.8 368.4 432.3 369.0 434.8 370.7 436.6 373.7 436.9 378.7 435.8 382.2 434.5 383.7 432.8 384.8 428.8 385.7 M343.1 521.7 338.3 520.6 334.8 519.2 333.1 517.7 333.1 516.2 334.9 514.7 338.3 513.4 351.6 510.7 353.5 510.2 354.1 509.7 352.6 506.2 352.0 501.7 352.1 494.2 353.4 489.7 355.3 487.1 358.3 485.4 361.8 484.6 366.8 484.3 371.3 484.5 374.8 485.1 377.8 486.4 379.7 488.2 380.9 490.2 381.6 492.7 382.0 500.7 381.4 506.2 379.4 510.7 388.3 514.0 390.4 515.2 391.4 516.2 391.3 517.7 389.6 519.2 386.3 520.6 381.5 521.7 M430.3 384.2 426.8 384.4 424.3 383.9 422.2 382.7 420.8 380.7 420.2 377.7 420.5 374.2 421.8 371.8 423.8 370.4 426.8 369.6 430.8 369.9 433.3 371.2 434.9 373.2 435.6 376.7 435.0 380.7 433.3 382.9 430.3 384.2 M344.6 521.7 339.3 520.5 335.8 519.2 334.0 517.7 334.0 516.2 335.9 514.7 339.3 513.4 356.3 510.2 357.0 509.7 355.0 506.7 354.1 503.2 354.0 495.7 354.8 491.7 356.3 489.2 358.8 487.4 362.3 486.5 366.8 486.3 371.8 486.5 375.3 487.5 377.7 489.2 379.2 491.7 380.0 496.2 379.9 503.7 379.0 506.7 377.8 508.7 376.2 510.2 376.5 510.7 387.3 514.0 389.5 515.2 390.6 516.7 390.1 518.2 388.3 519.4 384.3 520.8 380.0 521.7 M428.3 383.2 425.8 383.0 423.8 382.2 422.4 380.7 421.7 378.7 421.6 375.7 422.5 373.2 424.1 371.7 426.3 370.9 429.3 370.9 431.8 371.7 433.4 373.2 434.2 375.2 434.2 378.7 433.3 381.0 431.3 382.6 428.3 383.2 M346.3 521.7 340.8 520.6 336.9 519.2 335.0 517.7 335.1 516.2 337.3 514.6 342.3 513.0 361.0 510.2 362.3 509.7 358.8 508.1 357.4 506.7 356.6 505.2 355.9 501.2 356.2 494.2 357.3 491.5 359.3 489.5 362.3 488.5 366.8 488.2 371.8 488.5 374.8 489.6 376.8 491.7 377.9 494.7 378.1 501.7 377.2 505.7 376.2 507.2 374.8 508.4 370.2 510.2 379.3 512.0 384.8 513.5 388.4 515.2 389.6 516.7 389.0 518.2 386.8 519.5 382.8 520.8 378.2 521.7 M429.8 381.8 427.8 382.0 425.8 381.7 424.3 380.9 423.4 379.7 422.8 377.7 423.0 375.2 423.8 373.7 425.3 372.5 427.3 372.0 429.8 372.2 431.3 372.9 432.5 374.2 433.1 376.7 432.8 379.2 431.8 380.7 429.8 381.8 M370.3 507.8 365.3 507.9 362.3 507.5 360.3 506.5 358.8 504.8 357.9 501.7 358.0 495.7 358.8 493.2 360.8 491.1 364.3 490.2 370.3 490.2 373.3 491.2 375.2 493.2 376.1 497.2 376.1 501.2 375.7 503.7 375.0 505.2 373.8 506.5 370.3 507.8 M348.6 521.7 339.5 519.7 336.7 518.2 336.1 516.7 336.8 515.7 338.4 514.7 343.8 513.0 353.3 511.5 362.8 510.8 370.3 511.0 378.8 512.3 385.2 514.2 388.1 516.2 388.1 517.7 386.1 519.2 381.6 520.7 375.9 521.7 M429.3 380.7 426.3 380.6 424.5 379.2 424.1 377.7 424.2 375.7 424.8 374.5 425.8 373.6 427.3 373.2 429.3 373.3 430.8 374.1 431.6 375.2 431.9 376.7 431.7 378.7 430.8 379.9 429.3 380.7 M370.3 505.8 363.8 505.8 362.2 505.2 360.8 503.9 359.9 501.2 359.9 496.7 360.4 494.7 361.8 493.0 364.3 492.1 369.3 492.1 371.8 492.8 373.3 494.2 374.1 497.2 373.9 502.2 372.8 504.4 370.3 505.8 M352.1 521.7 345.8 520.8 341.5 519.7 338.5 518.2 337.8 516.7 338.6 515.7 340.3 514.7 345.2 513.2 354.8 511.7 363.3 511.3 371.3 511.6 378.8 512.8 384.5 514.7 386.1 515.7 386.7 516.7 386.0 518.2 383.1 519.7 378.8 520.8 372.3 521.7 M428.3 379.7 426.3 379.3 425.2 377.7 425.4 375.7 426.3 374.7 427.3 374.3 429.7 374.7 430.7 376.2 430.7 377.7 430.3 378.7 429.3 379.5 428.3 379.7 M369.8 503.8 364.8 503.9 362.6 502.7 361.9 500.7 361.8 497.7 362.3 495.7 363.2 494.7 364.8 494.1 368.3 493.9 370.3 494.4 371.3 495.2 372.1 497.2 372.1 501.2 371.3 502.8 369.8 503.8 M371.3 521.2 359.8 521.6 349.1 520.7 344.5 519.7 342.0 518.7 340.7 517.7 340.4 516.7 341.2 515.7 343.1 514.7 348.6 513.2 355.4 512.2 362.8 511.8 370.8 512.2 377.4 513.2 382.1 514.7 383.7 515.7 384.4 516.7 383.5 518.2 381.7 519.2 378.2 520.2 371.3 521.2 M428.8 378.5 427.8 378.7 426.7 378.2 426.3 376.7 426.8 375.7 428.3 375.3 429.3 375.8 429.7 377.2 428.8 378.5 M369.3 501.7 366.3 502.1 364.3 501.4 363.8 499.2 364.3 496.6 365.3 496.0 367.3 495.8 368.8 496.0 369.8 496.7 370.2 497.7 370.2 499.7 370.1 500.7 369.3 501.7 M367.3 520.2 359.3 520.3 353.4 519.7 348.5 518.2 347.2 516.7 348.4 515.2 350.8 514.2 355.2 513.2 361.8 512.6 368.3 512.8 374.4 513.7 377.5 514.7 379.4 516.2 379.3 517.2 378.8 517.7 376.8 518.7 372.5 519.7 367.3 520.2 M428.3 377.6 427.3 377.2 427.8 376.3 428.6 376.7 428.3 377.6 M367.3 500.2 366.3 500.2 365.8 499.7 365.8 498.4 366.3 497.8 367.3 497.8 368.1 498.2 368.2 499.7 367.3 500.2" fill="none" stroke="#000" stroke-width="1.0" stroke-linejoin="round"/>
</g>
<text x="61.71" y="20.80" font-size="20" textLength="28.94" lengthAdjust="spacingAndGlyphs" >Lin</text>
<rect x="92.7" y="8.6" width="4.6" height="1.6" />
<text x="104.79" y="20.80" font-size="20" textLength="43.40" lengthAdjust="spacingAndGlyphs" >c-kit</text>
<text x="149.29" y="14.60" font-size="12.5" textLength="18.69" lengthAdjust="spacingAndGlyphs" >Lo</text>
<text x="176.33" y="20.80" font-size="20" textLength="68.47" lengthAdjust="spacingAndGlyphs" >culture</text>
<text x="343.07" y="20.30" font-size="20" textLength="116.45" lengthAdjust="spacingAndGlyphs" >Spleen Cells</text>
<text x="46.98" y="321.40" font-size="20.5" textLength="139.27" lengthAdjust="spacingAndGlyphs" >Gated on CD3</text>
<rect x="187.7" y="304.8" width="5.2" height="1.7" />
<text x="200.92" y="321.40" font-size="20.5" textLength="41.85" lengthAdjust="spacingAndGlyphs" >DX5</text>
<path d="M244.1 304.2h10.2M249.2 299.1v10.2" stroke="#000" stroke-width="1.8"/>
<text x="311.29" y="321.40" font-size="20.5" textLength="138.96" lengthAdjust="spacingAndGlyphs" >Gated on CD3</text>
<rect x="451.4" y="304.8" width="5.5" height="1.7" />
<text x="464.33" y="321.40" font-size="20.5" textLength="41.43" lengthAdjust="spacingAndGlyphs" >DX5</text>
<path d="M507.8 303.9h10.0M512.8 298.9v10.0" stroke="#000" stroke-width="1.8"/>
<text x="46.98" y="601.40" font-size="20.5" textLength="139.27" lengthAdjust="spacingAndGlyphs" >Gated on CD3</text>
<rect x="187.7" y="584.9" width="5.2" height="1.7" />
<text x="200.92" y="601.40" font-size="20.5" textLength="41.85" lengthAdjust="spacingAndGlyphs" >DX5</text>
<path d="M244.1 584.2h10.2M249.2 579.1v10.2" stroke="#000" stroke-width="1.8"/>
<text x="311.29" y="601.40" font-size="20.5" textLength="138.96" lengthAdjust="spacingAndGlyphs" >Gated on CD3</text>
<rect x="451.4" y="584.9" width="5.5" height="1.7" />
<text x="464.33" y="601.40" font-size="20.5" textLength="41.43" lengthAdjust="spacingAndGlyphs" >DX5</text>
<path d="M507.8 583.9h10.0M512.8 578.9v10.0" stroke="#000" stroke-width="1.8"/>
<rect x="66.8" y="34.5" width="177.2" height="175.5" fill="none" stroke="#000" stroke-width="1.4"/>
<path d="M67.7 210.0v4.5M80.8 210.0v2.5M88.5 210.0v2.5M94.0 210.0v2.5M98.2 210.0v2.5M101.7 210.0v2.5M104.6 210.0v2.5M107.1 210.0v2.5M109.4 210.0v2.5M111.3 210.0v4.5M124.5 210.0v2.5M132.2 210.0v2.5M137.6 210.0v2.5M141.9 210.0v2.5M145.3 210.0v2.5M148.2 210.0v2.5M150.8 210.0v2.5M153.0 210.0v2.5M155.0 210.0v4.5M168.1 210.0v2.5M175.8 210.0v2.5M181.3 210.0v2.5M185.5 210.0v2.5M189.0 210.0v2.5M191.9 210.0v2.5M194.4 210.0v2.5M196.7 210.0v2.5M198.6 210.0v4.5M211.8 210.0v2.5M219.5 210.0v2.5M224.9 210.0v2.5M229.2 210.0v2.5M232.6 210.0v2.5M235.5 210.0v2.5M238.1 210.0v2.5M240.3 210.0v2.5M242.3 210.0v4.5" stroke="#000" stroke-width="1.2" fill="none"/>
<path d="M66.8 210.0h-3.5M66.8 196.9h-2M66.8 189.2h-2M66.8 183.8h-2M66.8 179.6h-2M66.8 176.2h-2M66.8 173.2h-2M66.8 170.7h-2M66.8 168.5h-2M66.8 166.5h-3.5M66.8 153.4h-2M66.8 145.7h-2M66.8 140.3h-2M66.8 136.1h-2M66.8 132.7h-2M66.8 129.7h-2M66.8 127.2h-2M66.8 125.0h-2M66.8 123.0h-3.5M66.8 109.9h-2M66.8 102.2h-2M66.8 96.8h-2M66.8 92.6h-2M66.8 89.2h-2M66.8 86.2h-2M66.8 83.7h-2M66.8 81.5h-2M66.8 79.5h-3.5M66.8 66.4h-2M66.8 58.7h-2M66.8 53.3h-2M66.8 49.1h-2M66.8 45.7h-2M66.8 42.7h-2M66.8 40.2h-2M66.8 38.0h-2M66.8 36.0h-3.5" stroke="#000" stroke-width="1.2" fill="none"/>
<rect x="323.2" y="35.2" width="176.8" height="175.8" fill="none" stroke="#000" stroke-width="1.4"/>
<path d="M324.6 211.0v4.5M337.6 211.0v2.5M345.3 211.0v2.5M350.7 211.0v2.5M354.9 211.0v2.5M358.3 211.0v2.5M361.2 211.0v2.5M363.7 211.0v2.5M365.9 211.0v2.5M367.9 211.0v4.5M380.9 211.0v2.5M388.6 211.0v2.5M394.0 211.0v2.5M398.2 211.0v2.5M401.6 211.0v2.5M404.5 211.0v2.5M407.0 211.0v2.5M409.2 211.0v2.5M411.2 211.0v4.5M424.2 211.0v2.5M431.9 211.0v2.5M437.3 211.0v2.5M441.5 211.0v2.5M444.9 211.0v2.5M447.8 211.0v2.5M450.3 211.0v2.5M452.5 211.0v2.5M454.5 211.0v4.5M467.5 211.0v2.5M475.2 211.0v2.5M480.6 211.0v2.5M484.8 211.0v2.5M488.2 211.0v2.5M491.1 211.0v2.5M493.6 211.0v2.5M495.8 211.0v2.5M497.8 211.0v4.5" stroke="#000" stroke-width="1.2" fill="none"/>
<path d="M323.2 210.8h-3.5M323.2 197.7h-2M323.2 190.1h-2M323.2 184.7h-2M323.2 180.5h-2M323.2 177.0h-2M323.2 174.1h-2M323.2 171.6h-2M323.2 169.4h-2M323.2 167.4h-3.5M323.2 154.3h-2M323.2 146.7h-2M323.2 141.3h-2M323.2 137.1h-2M323.2 133.6h-2M323.2 130.7h-2M323.2 128.2h-2M323.2 126.0h-2M323.2 124.0h-3.5M323.2 110.9h-2M323.2 103.3h-2M323.2 97.9h-2M323.2 93.7h-2M323.2 90.2h-2M323.2 87.3h-2M323.2 84.8h-2M323.2 82.6h-2M323.2 80.6h-3.5M323.2 67.5h-2M323.2 59.9h-2M323.2 54.5h-2M323.2 50.3h-2M323.2 46.8h-2M323.2 43.9h-2M323.2 41.4h-2M323.2 39.2h-2M323.2 37.2h-3.5" stroke="#000" stroke-width="1.2" fill="none"/>
<rect x="60.8" y="337.7" width="176.7" height="176.9" fill="none" stroke="#000" stroke-width="1.4"/>
<path d="M62.0 514.6v4.5M75.1 514.6v2.5M82.7 514.6v2.5M88.1 514.6v2.5M92.3 514.6v2.5M95.8 514.6v2.5M98.7 514.6v2.5M101.2 514.6v2.5M103.4 514.6v2.5M105.4 514.6v4.5M118.5 514.6v2.5M126.1 514.6v2.5M131.5 514.6v2.5M135.7 514.6v2.5M139.2 514.6v2.5M142.1 514.6v2.5M144.6 514.6v2.5M146.8 514.6v2.5M148.8 514.6v4.5M161.9 514.6v2.5M169.5 514.6v2.5M174.9 514.6v2.5M179.1 514.6v2.5M182.6 514.6v2.5M185.5 514.6v2.5M188.0 514.6v2.5M190.2 514.6v2.5M192.2 514.6v4.5M205.3 514.6v2.5M212.9 514.6v2.5M218.3 514.6v2.5M222.5 514.6v2.5M226.0 514.6v2.5M228.9 514.6v2.5M231.4 514.6v2.5M233.6 514.6v2.5M235.6 514.6v4.5" stroke="#000" stroke-width="1.2" fill="none"/>
<path d="M60.8 514.0h-3.5M60.8 500.9h-2M60.8 493.3h-2M60.8 487.8h-2M60.8 483.6h-2M60.8 480.2h-2M60.8 477.3h-2M60.8 474.8h-2M60.8 472.5h-2M60.8 470.6h-3.5M60.8 457.5h-2M60.8 449.8h-2M60.8 444.4h-2M60.8 440.2h-2M60.8 436.7h-2M60.8 433.8h-2M60.8 431.3h-2M60.8 429.1h-2M60.8 427.1h-3.5M60.8 414.0h-2M60.8 406.4h-2M60.8 400.9h-2M60.8 396.7h-2M60.8 393.3h-2M60.8 390.4h-2M60.8 387.9h-2M60.8 385.6h-2M60.8 383.6h-3.5M60.8 370.6h-2M60.8 362.9h-2M60.8 357.5h-2M60.8 353.3h-2M60.8 349.8h-2M60.8 346.9h-2M60.8 344.4h-2M60.8 342.2h-2M60.8 340.2h-3.5" stroke="#000" stroke-width="1.2" fill="none"/>
<rect x="323.8" y="339.2" width="176.6" height="176.8" fill="none" stroke="#000" stroke-width="1.4"/>
<path d="M325.2 516.0v4.5M338.2 516.0v2.5M345.8 516.0v2.5M351.2 516.0v2.5M355.4 516.0v2.5M358.8 516.0v2.5M361.7 516.0v2.5M364.2 516.0v2.5M366.4 516.0v2.5M368.4 516.0v4.5M381.4 516.0v2.5M389.0 516.0v2.5M394.4 516.0v2.5M398.6 516.0v2.5M402.0 516.0v2.5M404.9 516.0v2.5M407.4 516.0v2.5M409.6 516.0v2.5M411.6 516.0v4.5M424.6 516.0v2.5M432.2 516.0v2.5M437.6 516.0v2.5M441.8 516.0v2.5M445.2 516.0v2.5M448.1 516.0v2.5M450.6 516.0v2.5M452.8 516.0v2.5M454.8 516.0v4.5M467.8 516.0v2.5M475.4 516.0v2.5M480.8 516.0v2.5M485.0 516.0v2.5M488.4 516.0v2.5M491.3 516.0v2.5M493.8 516.0v2.5M496.0 516.0v2.5M498.0 516.0v4.5" stroke="#000" stroke-width="1.2" fill="none"/>
<path d="M323.8 515.5h-3.5M323.8 502.4h-2M323.8 494.7h-2M323.8 489.3h-2M323.8 485.0h-2M323.8 481.6h-2M323.8 478.7h-2M323.8 476.1h-2M323.8 473.9h-2M323.8 471.9h-3.5M323.8 458.8h-2M323.8 451.1h-2M323.8 445.7h-2M323.8 441.4h-2M323.8 438.0h-2M323.8 435.1h-2M323.8 432.5h-2M323.8 430.3h-2M323.8 428.3h-3.5M323.8 415.2h-2M323.8 407.5h-2M323.8 402.1h-2M323.8 397.8h-2M323.8 394.4h-2M323.8 391.5h-2M323.8 388.9h-2M323.8 386.7h-2M323.8 384.7h-3.5M323.8 371.6h-2M323.8 363.9h-2M323.8 358.5h-2M323.8 354.2h-2M323.8 350.8h-2M323.8 347.9h-2M323.8 345.3h-2M323.8 343.1h-2M323.8 341.1h-3.5" stroke="#000" stroke-width="1.2" fill="none"/>
<text x="52.48" y="238.00" font-size="16" textLength="19.53" lengthAdjust="spacingAndGlyphs" >10</text>
<text x="72.65" y="231.00" font-size="11" >0</text>
<text x="95.98" y="238.00" font-size="16" textLength="19.53" lengthAdjust="spacingAndGlyphs" >10</text>
<text x="115.75" y="231.00" font-size="11" >1</text>
<text x="139.48" y="238.00" font-size="16" textLength="19.53" lengthAdjust="spacingAndGlyphs" >10</text>
<text x="159.55" y="231.00" font-size="11" >2</text>
<text x="182.98" y="238.00" font-size="16" textLength="19.53" lengthAdjust="spacingAndGlyphs" >10</text>
<text x="203.20" y="231.00" font-size="11" >3</text>
<text x="226.48" y="238.00" font-size="16" textLength="19.53" lengthAdjust="spacingAndGlyphs" >10</text>
<text x="246.85" y="231.00" font-size="11" >4</text>
<text x="31.18" y="215.70" font-size="16" textLength="19.53" lengthAdjust="spacingAndGlyphs" >10</text>
<text x="51.35" y="208.50" font-size="12" >0</text>
<text x="31.18" y="172.20" font-size="16" textLength="19.53" lengthAdjust="spacingAndGlyphs" >10</text>
<text x="50.90" y="165.00" font-size="12" >1</text>
<text x="31.18" y="128.70" font-size="16" textLength="19.53" lengthAdjust="spacingAndGlyphs" >10</text>
<text x="51.20" y="121.50" font-size="12" >2</text>
<text x="31.18" y="85.20" font-size="16" textLength="19.53" lengthAdjust="spacingAndGlyphs" >10</text>
<text x="51.35" y="78.00" font-size="12" >3</text>
<text x="31.18" y="41.70" font-size="16" textLength="19.53" lengthAdjust="spacingAndGlyphs" >10</text>
<text x="51.50" y="34.50" font-size="12" >4</text>
<text x="310.98" y="238.30" font-size="16" textLength="19.53" lengthAdjust="spacingAndGlyphs" >10</text>
<text x="331.15" y="231.30" font-size="11" >0</text>
<text x="353.98" y="238.30" font-size="16" textLength="19.53" lengthAdjust="spacingAndGlyphs" >10</text>
<text x="373.75" y="231.30" font-size="11" >1</text>
<text x="396.98" y="238.30" font-size="16" textLength="19.53" lengthAdjust="spacingAndGlyphs" >10</text>
<text x="417.05" y="231.30" font-size="11" >2</text>
<text x="439.98" y="238.30" font-size="16" textLength="19.53" lengthAdjust="spacingAndGlyphs" >10</text>
<text x="460.20" y="231.30" font-size="11" >3</text>
<text x="482.98" y="238.30" font-size="16" textLength="19.53" lengthAdjust="spacingAndGlyphs" >10</text>
<text x="503.35" y="231.30" font-size="11" >4</text>
<text x="288.28" y="215.70" font-size="16" textLength="19.53" lengthAdjust="spacingAndGlyphs" >10</text>
<text x="308.45" y="208.50" font-size="12" >0</text>
<text x="288.28" y="172.20" font-size="16" textLength="19.53" lengthAdjust="spacingAndGlyphs" >10</text>
<text x="308.00" y="165.00" font-size="12" >1</text>
<text x="288.28" y="128.70" font-size="16" textLength="19.53" lengthAdjust="spacingAndGlyphs" >10</text>
<text x="308.30" y="121.50" font-size="12" >2</text>
<text x="288.28" y="85.20" font-size="16" textLength="19.53" lengthAdjust="spacingAndGlyphs" >10</text>
<text x="308.45" y="78.00" font-size="12" >3</text>
<text x="288.28" y="41.70" font-size="16" textLength="19.53" lengthAdjust="spacingAndGlyphs" >10</text>
<text x="308.60" y="34.50" font-size="12" >4</text>
<text x="45.58" y="541.80" font-size="16" textLength="19.53" lengthAdjust="spacingAndGlyphs" >10</text>
<text x="65.75" y="534.80" font-size="11" >0</text>
<text x="88.98" y="541.80" font-size="16" textLength="19.53" lengthAdjust="spacingAndGlyphs" >10</text>
<text x="108.75" y="534.80" font-size="11" >1</text>
<text x="132.38" y="541.80" font-size="16" textLength="19.53" lengthAdjust="spacingAndGlyphs" >10</text>
<text x="152.45" y="534.80" font-size="11" >2</text>
<text x="175.78" y="541.80" font-size="16" textLength="19.53" lengthAdjust="spacingAndGlyphs" >10</text>
<text x="196.00" y="534.80" font-size="11" >3</text>
<text x="219.18" y="541.80" font-size="16" textLength="19.53" lengthAdjust="spacingAndGlyphs" >10</text>
<text x="239.55" y="534.80" font-size="11" >4</text>
<text x="23.08" y="518.60" font-size="16" textLength="19.53" lengthAdjust="spacingAndGlyphs" >10</text>
<text x="43.25" y="511.40" font-size="12" >0</text>
<text x="23.08" y="475.15" font-size="16" textLength="19.53" lengthAdjust="spacingAndGlyphs" >10</text>
<text x="42.80" y="467.95" font-size="12" >1</text>
<text x="23.08" y="431.70" font-size="16" textLength="19.53" lengthAdjust="spacingAndGlyphs" >10</text>
<text x="43.10" y="424.50" font-size="12" >2</text>
<text x="23.08" y="388.25" font-size="16" textLength="19.53" lengthAdjust="spacingAndGlyphs" >10</text>
<text x="43.25" y="381.05" font-size="12" >3</text>
<text x="23.08" y="344.80" font-size="16" textLength="19.53" lengthAdjust="spacingAndGlyphs" >10</text>
<text x="43.40" y="337.60" font-size="12" >4</text>
<text x="309.38" y="544.20" font-size="16" textLength="19.53" lengthAdjust="spacingAndGlyphs" >10</text>
<text x="329.55" y="537.20" font-size="11" >0</text>
<text x="352.58" y="544.20" font-size="16" textLength="19.53" lengthAdjust="spacingAndGlyphs" >10</text>
<text x="372.35" y="537.20" font-size="11" >1</text>
<text x="395.78" y="544.20" font-size="16" textLength="19.53" lengthAdjust="spacingAndGlyphs" >10</text>
<text x="415.85" y="537.20" font-size="11" >2</text>
<text x="438.98" y="544.20" font-size="16" textLength="19.53" lengthAdjust="spacingAndGlyphs" >10</text>
<text x="459.20" y="537.20" font-size="11" >3</text>
<text x="482.18" y="544.20" font-size="16" textLength="19.53" lengthAdjust="spacingAndGlyphs" >10</text>
<text x="502.55" y="537.20" font-size="11" >4</text>
<text x="287.38" y="521.40" font-size="16" textLength="19.53" lengthAdjust="spacingAndGlyphs" >10</text>
<text x="307.55" y="514.20" font-size="12" >0</text>
<text x="287.38" y="477.80" font-size="16" textLength="19.53" lengthAdjust="spacingAndGlyphs" >10</text>
<text x="307.10" y="470.60" font-size="12" >1</text>
<text x="287.38" y="434.20" font-size="16" textLength="19.53" lengthAdjust="spacingAndGlyphs" >10</text>
<text x="307.40" y="427.00" font-size="12" >2</text>
<text x="287.38" y="390.60" font-size="16" textLength="19.53" lengthAdjust="spacingAndGlyphs" >10</text>
<text x="307.55" y="383.40" font-size="12" >3</text>
<text x="287.38" y="347.00" font-size="16" textLength="19.53" lengthAdjust="spacingAndGlyphs" >10</text>
<text x="307.70" y="339.80" font-size="12" >4</text>
<text x="125.31" y="261.60" font-size="20" textLength="39.54" lengthAdjust="spacingAndGlyphs" >CD3</text>
<text x="381.81" y="262.00" font-size="20" textLength="39.75" lengthAdjust="spacingAndGlyphs" >CD3</text>
<text x="118.33" y="562.60" font-size="20" textLength="54.59" lengthAdjust="spacingAndGlyphs" >CD94</text>
<text x="379.92" y="564.80" font-size="20" textLength="55.31" lengthAdjust="spacingAndGlyphs" >CD94</text>
<text x="0" y="0" font-size="20" textLength="39.17" lengthAdjust="spacingAndGlyphs" transform="translate(25.60,142.66) rotate(-90)" >DX5</text>
<text x="0" y="0" font-size="20" textLength="39.49" lengthAdjust="spacingAndGlyphs" transform="translate(282.70,140.97) rotate(-90)" >DX5</text>
<text x="0" y="0" font-size="20" textLength="67.16" lengthAdjust="spacingAndGlyphs" transform="translate(17.10,457.38) rotate(-90)" >NK-1.1</text>
<text x="0" y="0" font-size="20" textLength="64.96" lengthAdjust="spacingAndGlyphs" transform="translate(284.40,457.32) rotate(-90)" >NK-1.1</text>
<text x="0" y="0" font-size="20" textLength="82.47" lengthAdjust="spacingAndGlyphs" transform="translate(22.90,744.88) rotate(-90)" >No. Cells</text>
<text x="0" y="0" font-size="20" textLength="82.47" lengthAdjust="spacingAndGlyphs" transform="translate(284.90,750.68) rotate(-90)" >No. Cells</text>
<text x="116.17" y="847.20" font-size="20" textLength="76.95" lengthAdjust="spacingAndGlyphs" >Ly49G2</text>
<text x="377.85" y="847.40" font-size="20" textLength="77.89" lengthAdjust="spacingAndGlyphs" >Ly49G2</text>
<path d="M94.5 142V264.2" stroke="#000" stroke-width="1.6"/>
<path d="M83.6 257.2 Q90.05 261.2 94.5 261.6 Q98.65 261.2 104.8 257.2 L94.5 286.2Z" fill="#000"/>
<path d="M343.6 142V263.8" stroke="#000" stroke-width="1.6"/>
<path d="M333.2 257.2 Q339.4 261.2 343.6 261.6 Q347.8 261.2 354.0 257.2 L343.6 285.8Z" fill="#000"/>
<path d="M137.5 337.7V514.6M60.8 426.3H237.5" stroke="#000" stroke-width="1.3"/>
<path d="M400.8 339.2V516M323.8 427.3H500.4" stroke="#000" stroke-width="1.3"/>
<rect x="69.8" y="73.3" width="50.6" height="68.6" fill="none" stroke="#000" stroke-width="1.2"/>
<rect x="325.9" y="73.3" width="42" height="69" fill="none" stroke="#000" stroke-width="1.2"/>
<text x="150.49" y="472.30" font-size="12.5" textLength="36.97" lengthAdjust="spacingAndGlyphs" style="stroke-width:0.55px">48.6%</text>
<text x="194.68" y="472.30" font-size="12.5" textLength="37.59" lengthAdjust="spacingAndGlyphs" style="stroke-width:0.55px">41.3%</text>
<text x="158.44" y="492.40" font-size="12.5" textLength="29.01" lengthAdjust="spacingAndGlyphs" style="stroke-width:0.55px">8.6%</text>
<path d="M192 461.7V492.6M162.1 477H222.3M455 462.7V493.5M424.2 478H484.8" stroke="#000" stroke-width="1.6"/>
<text x="412.83" y="473.20" font-size="12.5" textLength="36.33" lengthAdjust="spacingAndGlyphs" style="stroke-width:0.55px">13.5%</text>
<text x="455.99" y="473.20" font-size="12.5" textLength="38.80" lengthAdjust="spacingAndGlyphs" style="stroke-width:0.55px">23.6%</text>
<text x="411.10" y="492.40" font-size="12.5" textLength="38.07" lengthAdjust="spacingAndGlyphs" style="stroke-width:0.55px">62.9%</text>
<rect x="60.2" y="618.2" width="176.3" height="177.2" fill="none" stroke="#000" stroke-width="1.4"/>
<path d="M60.8 795.4v4.5M73.8 795.4v2.5M81.4 795.4v2.5M86.8 795.4v2.5M91.0 795.4v2.5M94.5 795.4v2.5M97.4 795.4v2.5M99.9 795.4v2.5M102.1 795.4v2.5M104.0 795.4v4.5M117.1 795.4v2.5M124.7 795.4v2.5M130.1 795.4v2.5M134.3 795.4v2.5M137.7 795.4v2.5M140.6 795.4v2.5M143.1 795.4v2.5M145.3 795.4v2.5M147.3 795.4v4.5M160.3 795.4v2.5M167.9 795.4v2.5M173.3 795.4v2.5M177.5 795.4v2.5M181.0 795.4v2.5M183.9 795.4v2.5M186.4 795.4v2.5M188.6 795.4v2.5M190.6 795.4v4.5M203.6 795.4v2.5M211.2 795.4v2.5M216.6 795.4v2.5M220.8 795.4v2.5M224.2 795.4v2.5M227.1 795.4v2.5M229.6 795.4v2.5M231.8 795.4v2.5M233.8 795.4v4.5" stroke="#000" stroke-width="1.2" fill="none"/>
<rect x="326.0" y="620.0" width="176.0" height="177.5" fill="none" stroke="#000" stroke-width="1.4"/>
<path d="M326.6 797.5v4.5M339.6 797.5v2.5M347.2 797.5v2.5M352.7 797.5v2.5M356.9 797.5v2.5M360.3 797.5v2.5M363.2 797.5v2.5M365.7 797.5v2.5M367.9 797.5v2.5M369.9 797.5v4.5M382.9 797.5v2.5M390.5 797.5v2.5M395.9 797.5v2.5M400.1 797.5v2.5M403.6 797.5v2.5M406.5 797.5v2.5M409.0 797.5v2.5M411.2 797.5v2.5M413.2 797.5v4.5M426.2 797.5v2.5M433.8 797.5v2.5M439.2 797.5v2.5M443.4 797.5v2.5M446.8 797.5v2.5M449.7 797.5v2.5M452.2 797.5v2.5M454.5 797.5v2.5M456.4 797.5v4.5M469.5 797.5v2.5M477.1 797.5v2.5M482.5 797.5v2.5M486.7 797.5v2.5M490.1 797.5v2.5M493.0 797.5v2.5M495.5 797.5v2.5M497.7 797.5v2.5M499.7 797.5v4.5" stroke="#000" stroke-width="1.2" fill="none"/>
<text x="49.68" y="824.40" font-size="16" textLength="19.53" lengthAdjust="spacingAndGlyphs" >10</text>
<text x="69.85" y="817.40" font-size="11" >0</text>
<text x="92.98" y="824.40" font-size="16" textLength="19.53" lengthAdjust="spacingAndGlyphs" >10</text>
<text x="112.75" y="817.40" font-size="11" >1</text>
<text x="136.28" y="824.40" font-size="16" textLength="19.53" lengthAdjust="spacingAndGlyphs" >10</text>
<text x="156.35" y="817.40" font-size="11" >2</text>
<text x="179.58" y="824.40" font-size="16" textLength="19.53" lengthAdjust="spacingAndGlyphs" >10</text>
<text x="199.80" y="817.40" font-size="11" >3</text>
<text x="222.88" y="824.40" font-size="16" textLength="19.53" lengthAdjust="spacingAndGlyphs" >10</text>
<text x="243.25" y="817.40" font-size="11" >4</text>
<text x="310.78" y="824.40" font-size="16" textLength="19.53" lengthAdjust="spacingAndGlyphs" >10</text>
<text x="330.95" y="817.40" font-size="11" >0</text>
<text x="354.08" y="824.40" font-size="16" textLength="19.53" lengthAdjust="spacingAndGlyphs" >10</text>
<text x="373.85" y="817.40" font-size="11" >1</text>
<text x="397.38" y="824.40" font-size="16" textLength="19.53" lengthAdjust="spacingAndGlyphs" >10</text>
<text x="417.45" y="817.40" font-size="11" >2</text>
<text x="440.68" y="824.40" font-size="16" textLength="19.53" lengthAdjust="spacingAndGlyphs" >10</text>
<text x="460.90" y="817.40" font-size="11" >3</text>
<text x="483.98" y="824.40" font-size="16" textLength="19.53" lengthAdjust="spacingAndGlyphs" >10</text>
<text x="504.35" y="817.40" font-size="11" >4</text>
<path d="M60.2 794.9h-4.5M60.2 785.9h-2M60.2 776.8h-2M60.2 767.8h-2M60.2 758.8h-4.5M60.2 749.7h-2M60.2 740.7h-2M60.2 731.6h-2M60.2 722.6h-4.5M60.2 713.6h-2M60.2 704.5h-2M60.2 695.5h-2M60.2 686.5h-4.5M60.2 677.4h-2M60.2 668.4h-2M60.2 659.3h-2M60.2 650.3h-4.5M60.2 641.3h-2M60.2 632.2h-2M60.2 623.2h-2" stroke="#000" stroke-width="1.2"/>
<text x="28.33" y="651.00" font-size="18" textLength="21.02" lengthAdjust="spacingAndGlyphs" >40</text>
<text x="28.34" y="686.80" font-size="18" textLength="21.02" lengthAdjust="spacingAndGlyphs" >30</text>
<text x="28.33" y="726.30" font-size="18" textLength="21.02" lengthAdjust="spacingAndGlyphs" >20</text>
<text x="28.34" y="763.30" font-size="18" textLength="21.02" lengthAdjust="spacingAndGlyphs" >10</text>
<text x="38.84" y="800.80" font-size="18" textLength="10.51" lengthAdjust="spacingAndGlyphs" >0</text>
<path d="M326 797.2h-4.5M326 786.6h-2M326 776.1h-2M326 765.5h-2M326 754.9h-4.5M326 744.3h-2M326 733.8h-2M326 723.2h-2M326 712.6h-4.5M326 702.0h-2M326 691.5h-2M326 680.9h-2M326 670.3h-4.5M326 659.7h-2M326 649.2h-2M326 638.6h-2M326 628.0h-4.5" stroke="#000" stroke-width="1.2"/>
<text x="286.44" y="635.80" font-size="17" textLength="30.07" lengthAdjust="spacingAndGlyphs" >120</text>
<text x="296.45" y="677.80" font-size="17" textLength="20.04" lengthAdjust="spacingAndGlyphs" >90</text>
<text x="296.45" y="718.90" font-size="17" textLength="20.04" lengthAdjust="spacingAndGlyphs" >60</text>
<text x="296.45" y="759.60" font-size="17" textLength="20.04" lengthAdjust="spacingAndGlyphs" >30</text>
<text x="306.47" y="802.00" font-size="17" textLength="10.02" lengthAdjust="spacingAndGlyphs" >0</text>
<text x="130.33" y="709.00" font-size="18.5" textLength="44.38" lengthAdjust="spacingAndGlyphs" >1.3%</text>
<text x="391.68" y="712.20" font-size="18.5" textLength="56.83" lengthAdjust="spacingAndGlyphs" >12.8%</text>
<path d="M114.6 717.9H191.8M114.6 714.4V721.6M191.8 714.4V721.6" stroke="#000" stroke-width="1.7"/>
<path d="M380.8 719H457.4M380.8 715.8V723M457.4 715.8V723" stroke="#000" stroke-width="1.7"/>
<path d="M60.8 618.5 L60.8 738.0 L62.0 739.9 L63.5 742.9 L65.5 746.4 L67.0 743.9 L69.0 744.4 L70.4 734.9 L71.9 731.4 L73.9 732.4 L75.4 728.0 L76.9 721.0 L77.5 719.7 L79.6 697.5 L80.7 680.6 L81.7 672.2 L83.8 663.8 L84.9 647.9 L86.3 640.5 L87.5 647.9 L88.6 666.9 L89.1 680.6 L90.7 695.4 L92.3 719.7 L92.6 734.9 L93.4 759.8 L94.8 774.8 L96.8 784.7 L98.8 789.2 L101.8 789.2 L104.0 787.5 L106.1 787.3 L109.0 789.0 L111.7 790.0 L120.0 792.3 L131.2 793.7 L136.8 792.8 L142.4 793.7 L161.8 793.7 L164.6 792.8 L170.2 794.5 L180.0 795.0 L236.0 795.0" fill="none" stroke="#000" stroke-width="1.3" stroke-linejoin="round"/>
<path d="M326.6 620.5 L326.6 684.0 L327.5 685.4 L328.8 695.7 L330.3 690.0 L331.8 684.2 L333.8 686.0 L335.5 678.4 L337.3 672.7 L338.4 658.8 L339.6 645.0 L340.7 640.4 L341.9 642.7 L342.7 647.3 L343.6 639.2 L344.2 638.1 L344.8 643.8 L345.9 655.4 L347.1 668.1 L348.8 684.2 L349.6 700.0 L350.5 705.0 L351.9 730.8 L354.2 758.5 L355.8 771.5 L358.8 780.0 L361.9 788.5 L364.2 790.5 L368.1 791.1 L372.7 791.8 L377.3 791.1 L381.2 789.2 L384.2 783.8 L387.3 780.8 L390.4 778.5 L391.9 780.0 L393.5 780.8 L395.0 772.3 L396.5 764.6 L398.1 766.9 L399.6 768.5 L401.2 767.7 L402.7 771.5 L405.0 773.8 L407.3 778.5 L410.0 781.9 L412.7 787.4 L417.3 790.1 L421.9 793.4 L425.5 796.0 L442.9 796.5 L501.0 797.0" fill="none" stroke="#000" stroke-width="1.3" stroke-linejoin="round"/>
<path d="M61.2 618.5V739" stroke="#000" stroke-width="2.6"/>
<path d="M326.2 620.5V685" stroke="#000" stroke-width="2.8"/>
</svg></body></html>
